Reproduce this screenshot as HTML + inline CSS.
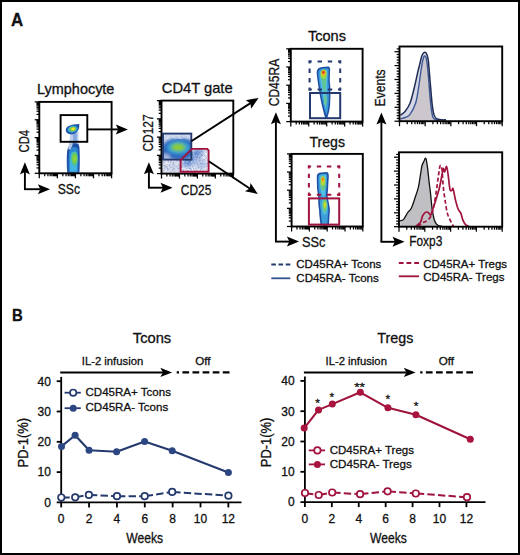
<!DOCTYPE html>
<html><head><meta charset="utf-8"><style>
html,body{margin:0;padding:0;background:#fff;}
svg{display:block;}
text{font-family:"Liberation Sans",sans-serif;stroke:#111;stroke-width:0.3px;}
</style></head><body>
<svg width="520" height="555" viewBox="0 0 520 555" font-family="Liberation Sans, sans-serif">
<defs>
<filter id="bl1" x="-50%" y="-50%" width="200%" height="200%"><feGaussianBlur stdDeviation="0.9"/></filter>
<filter id="bl15" x="-50%" y="-50%" width="200%" height="200%"><feGaussianBlur stdDeviation="1.4"/></filter>
<filter id="bl05" x="-50%" y="-50%" width="200%" height="200%"><feGaussianBlur stdDeviation="0.5"/></filter>
<filter id="bl07" x="-50%" y="-50%" width="200%" height="200%"><feGaussianBlur stdDeviation="0.7"/></filter>
<clipPath id="cpBlue"><rect x="163" y="133.6" width="28.3" height="26"/></clipPath>
</defs>
<rect x="0" y="0" width="520" height="555" fill="#000"/>
<rect x="2" y="2" width="516" height="551" fill="#fff"/>
<text x="11.00" y="25.60" font-size="17.5" text-anchor="start" fill="#111" font-weight="bold" textLength="12.2" lengthAdjust="spacingAndGlyphs" >A</text>
<text x="12.00" y="321.30" font-size="16.5" text-anchor="start" fill="#111" font-weight="bold" textLength="10.8" lengthAdjust="spacingAndGlyphs" >B</text>
<text x="37.10" y="93.90" font-size="14" text-anchor="start" fill="#111" textLength="77.3" lengthAdjust="spacingAndGlyphs" >Lymphocyte</text>
<g filter="url(#bl05)">
<path d="M69.5,133 C70.5,137 69.5,141 68.5,145 L79,145 C78.8,141 78.3,137 78.5,132 Z" fill="#a7bfe5" opacity="0.75"/>
<path d="M73,134 C73.3,138 73,141 73,145 L77,145 C76.8,141 76.6,137 77,133 Z" fill="#5d90d4" opacity="0.6"/>
<path d="M67.3,172.8 C66.6,165 66.5,156 67.2,151 C67.8,147 70,143.5 74,143.3 C77,143.2 79,143.8 79.4,147 C79.9,154 79.9,165 79.4,172.8 Z" fill="#1f52a6"/>
<path d="M68.2,149 C68.6,146 70.5,144 73,143.6 L70.5,150 Z" fill="#c9d6ee" opacity="0.9"/>
<path d="M69,172.5 C68.5,165 68.5,157 69.2,152.5 C69.8,149 71.5,147 74,147 C76.3,147 77.6,148 77.9,151 C78.3,157 78.3,165 77.9,172.5 Z" fill="#2f86cf"/>
<path d="M70.2,171.5 C70,165 70,158 70.8,154 C71.4,151 76.2,150.5 76.8,153.5 C77.2,158 77.2,165 76.8,171.5 Z" fill="#43b6e2"/>
<ellipse cx="74.5" cy="158.8" rx="3.4" ry="7" fill="#56c38e"/>
<ellipse cx="74.6" cy="158.6" rx="2.4" ry="4.8" fill="#78cc45"/>
<ellipse cx="74.7" cy="158.5" rx="1.2" ry="2.4" fill="#9ed43a"/>
<path d="M65.8,130.2 C65.6,126.3 71,124.2 79.2,124 C79.7,128.5 77.8,133 73,134.2 C68.8,134.8 66,133.2 65.8,130.2 Z" fill="#1f52a6"/>
<ellipse cx="72.6" cy="129.2" rx="5.1" ry="3.4" fill="#36a8dc" transform="rotate(-12 72.6 129.2)"/>
<ellipse cx="72.8" cy="129.1" rx="3.5" ry="2.3" fill="#7cc444" transform="rotate(-12 72.8 129.1)"/>
<ellipse cx="73" cy="129" rx="1.9" ry="1.4" fill="#f1e324"/>
</g>
<line x1="34.70" y1="173.30" x2="39.30" y2="173.30" stroke="#000" stroke-width="1.25" />
<line x1="36.50" y1="167.93" x2="39.30" y2="167.93" stroke="#000" stroke-width="1.25" />
<line x1="36.50" y1="164.78" x2="39.30" y2="164.78" stroke="#000" stroke-width="1.25" />
<line x1="36.50" y1="162.55" x2="39.30" y2="162.55" stroke="#000" stroke-width="1.25" />
<line x1="36.50" y1="160.82" x2="39.30" y2="160.82" stroke="#000" stroke-width="1.25" />
<line x1="36.50" y1="159.41" x2="39.30" y2="159.41" stroke="#000" stroke-width="1.25" />
<line x1="36.50" y1="158.21" x2="39.30" y2="158.21" stroke="#000" stroke-width="1.25" />
<line x1="36.50" y1="157.18" x2="39.30" y2="157.18" stroke="#000" stroke-width="1.25" />
<line x1="36.50" y1="156.27" x2="39.30" y2="156.27" stroke="#000" stroke-width="1.25" />
<line x1="34.70" y1="155.45" x2="39.30" y2="155.45" stroke="#000" stroke-width="1.25" />
<line x1="36.50" y1="150.08" x2="39.30" y2="150.08" stroke="#000" stroke-width="1.25" />
<line x1="36.50" y1="146.93" x2="39.30" y2="146.93" stroke="#000" stroke-width="1.25" />
<line x1="36.50" y1="144.70" x2="39.30" y2="144.70" stroke="#000" stroke-width="1.25" />
<line x1="36.50" y1="142.97" x2="39.30" y2="142.97" stroke="#000" stroke-width="1.25" />
<line x1="36.50" y1="141.56" x2="39.30" y2="141.56" stroke="#000" stroke-width="1.25" />
<line x1="36.50" y1="140.36" x2="39.30" y2="140.36" stroke="#000" stroke-width="1.25" />
<line x1="36.50" y1="139.33" x2="39.30" y2="139.33" stroke="#000" stroke-width="1.25" />
<line x1="36.50" y1="138.42" x2="39.30" y2="138.42" stroke="#000" stroke-width="1.25" />
<line x1="34.70" y1="137.60" x2="39.30" y2="137.60" stroke="#000" stroke-width="1.25" />
<line x1="36.50" y1="132.23" x2="39.30" y2="132.23" stroke="#000" stroke-width="1.25" />
<line x1="36.50" y1="129.08" x2="39.30" y2="129.08" stroke="#000" stroke-width="1.25" />
<line x1="36.50" y1="126.85" x2="39.30" y2="126.85" stroke="#000" stroke-width="1.25" />
<line x1="36.50" y1="125.12" x2="39.30" y2="125.12" stroke="#000" stroke-width="1.25" />
<line x1="36.50" y1="123.71" x2="39.30" y2="123.71" stroke="#000" stroke-width="1.25" />
<line x1="36.50" y1="122.51" x2="39.30" y2="122.51" stroke="#000" stroke-width="1.25" />
<line x1="36.50" y1="121.48" x2="39.30" y2="121.48" stroke="#000" stroke-width="1.25" />
<line x1="36.50" y1="120.57" x2="39.30" y2="120.57" stroke="#000" stroke-width="1.25" />
<line x1="34.70" y1="119.75" x2="39.30" y2="119.75" stroke="#000" stroke-width="1.25" />
<line x1="36.50" y1="114.38" x2="39.30" y2="114.38" stroke="#000" stroke-width="1.25" />
<line x1="36.50" y1="111.23" x2="39.30" y2="111.23" stroke="#000" stroke-width="1.25" />
<line x1="36.50" y1="109.00" x2="39.30" y2="109.00" stroke="#000" stroke-width="1.25" />
<line x1="36.50" y1="107.27" x2="39.30" y2="107.27" stroke="#000" stroke-width="1.25" />
<line x1="36.50" y1="105.86" x2="39.30" y2="105.86" stroke="#000" stroke-width="1.25" />
<line x1="36.50" y1="104.66" x2="39.30" y2="104.66" stroke="#000" stroke-width="1.25" />
<line x1="36.50" y1="103.63" x2="39.30" y2="103.63" stroke="#000" stroke-width="1.25" />
<line x1="36.50" y1="102.72" x2="39.30" y2="102.72" stroke="#000" stroke-width="1.25" />
<line x1="34.70" y1="101.90" x2="39.30" y2="101.90" stroke="#000" stroke-width="1.25" />
<line x1="39.30" y1="173.30" x2="39.30" y2="178.30" stroke="#000" stroke-width="1.25" />
<line x1="44.74" y1="173.30" x2="44.74" y2="176.30" stroke="#000" stroke-width="1.25" />
<line x1="47.92" y1="173.30" x2="47.92" y2="176.30" stroke="#000" stroke-width="1.25" />
<line x1="50.18" y1="173.30" x2="50.18" y2="176.30" stroke="#000" stroke-width="1.25" />
<line x1="51.93" y1="173.30" x2="51.93" y2="176.30" stroke="#000" stroke-width="1.25" />
<line x1="53.37" y1="173.30" x2="53.37" y2="176.30" stroke="#000" stroke-width="1.25" />
<line x1="54.58" y1="173.30" x2="54.58" y2="176.30" stroke="#000" stroke-width="1.25" />
<line x1="55.62" y1="173.30" x2="55.62" y2="176.30" stroke="#000" stroke-width="1.25" />
<line x1="56.55" y1="173.30" x2="56.55" y2="176.30" stroke="#000" stroke-width="1.25" />
<line x1="57.38" y1="173.30" x2="57.38" y2="178.30" stroke="#000" stroke-width="1.25" />
<line x1="62.82" y1="173.30" x2="62.82" y2="176.30" stroke="#000" stroke-width="1.25" />
<line x1="66.00" y1="173.30" x2="66.00" y2="176.30" stroke="#000" stroke-width="1.25" />
<line x1="68.26" y1="173.30" x2="68.26" y2="176.30" stroke="#000" stroke-width="1.25" />
<line x1="70.01" y1="173.30" x2="70.01" y2="176.30" stroke="#000" stroke-width="1.25" />
<line x1="71.44" y1="173.30" x2="71.44" y2="176.30" stroke="#000" stroke-width="1.25" />
<line x1="72.65" y1="173.30" x2="72.65" y2="176.30" stroke="#000" stroke-width="1.25" />
<line x1="73.70" y1="173.30" x2="73.70" y2="176.30" stroke="#000" stroke-width="1.25" />
<line x1="74.62" y1="173.30" x2="74.62" y2="176.30" stroke="#000" stroke-width="1.25" />
<line x1="75.45" y1="173.30" x2="75.45" y2="178.30" stroke="#000" stroke-width="1.25" />
<line x1="80.89" y1="173.30" x2="80.89" y2="176.30" stroke="#000" stroke-width="1.25" />
<line x1="84.07" y1="173.30" x2="84.07" y2="176.30" stroke="#000" stroke-width="1.25" />
<line x1="86.33" y1="173.30" x2="86.33" y2="176.30" stroke="#000" stroke-width="1.25" />
<line x1="88.08" y1="173.30" x2="88.08" y2="176.30" stroke="#000" stroke-width="1.25" />
<line x1="89.52" y1="173.30" x2="89.52" y2="176.30" stroke="#000" stroke-width="1.25" />
<line x1="90.73" y1="173.30" x2="90.73" y2="176.30" stroke="#000" stroke-width="1.25" />
<line x1="91.77" y1="173.30" x2="91.77" y2="176.30" stroke="#000" stroke-width="1.25" />
<line x1="92.70" y1="173.30" x2="92.70" y2="176.30" stroke="#000" stroke-width="1.25" />
<line x1="93.52" y1="173.30" x2="93.52" y2="178.30" stroke="#000" stroke-width="1.25" />
<line x1="98.97" y1="173.30" x2="98.97" y2="176.30" stroke="#000" stroke-width="1.25" />
<line x1="102.15" y1="173.30" x2="102.15" y2="176.30" stroke="#000" stroke-width="1.25" />
<line x1="104.41" y1="173.30" x2="104.41" y2="176.30" stroke="#000" stroke-width="1.25" />
<line x1="106.16" y1="173.30" x2="106.16" y2="176.30" stroke="#000" stroke-width="1.25" />
<line x1="107.59" y1="173.30" x2="107.59" y2="176.30" stroke="#000" stroke-width="1.25" />
<line x1="108.80" y1="173.30" x2="108.80" y2="176.30" stroke="#000" stroke-width="1.25" />
<line x1="109.85" y1="173.30" x2="109.85" y2="176.30" stroke="#000" stroke-width="1.25" />
<line x1="110.77" y1="173.30" x2="110.77" y2="176.30" stroke="#000" stroke-width="1.25" />
<line x1="111.60" y1="173.30" x2="111.60" y2="178.30" stroke="#000" stroke-width="1.25" />
<rect x="39.30" y="101.90" width="72.30" height="71.40" fill="none" stroke="#000" stroke-width="1.9"/>
<rect x="60.6" y="115.1" width="26.7" height="26.7" fill="none" stroke="#000" stroke-width="1.9"/>
<line x1="87.40" y1="129.40" x2="118.70" y2="129.40" stroke="#000" stroke-width="1.9" />
<path d="M127.90,129.40 L115.80,134.40 L118.20,129.40 L115.80,124.40 Z" fill="#000"/>
<line x1="24.90" y1="189.20" x2="24.90" y2="170.00" stroke="#000" stroke-width="1.9" />
<path d="M24.90,162.30 L29.90,174.40 L24.90,172.00 L19.90,174.40 Z" fill="#000"/>
<line x1="24.00" y1="189.20" x2="40.00" y2="189.20" stroke="#000" stroke-width="1.9" />
<path d="M50.00,189.20 L37.90,194.20 L40.30,189.20 L37.90,184.20 Z" fill="#000"/>
<text x="29.40" y="152.40" font-size="15.3" text-anchor="start" fill="#111" textLength="22.5" lengthAdjust="spacingAndGlyphs" transform="rotate(-90 29.40 152.40)" >CD4</text>
<text x="57.70" y="194.10" font-size="15.3" text-anchor="start" fill="#111" textLength="22.3" lengthAdjust="spacingAndGlyphs" >SSc</text>
<text x="161.80" y="93.20" font-size="14.3" text-anchor="start" fill="#111" textLength="70.8" lengthAdjust="spacingAndGlyphs" >CD4T gate</text>
<clipPath id="cpRed"><path d="M180.3,172 L180.3,160 L191.6,148.8 L208.5,148.8 L208.5,172 Z"/></clipPath>
<clipPath id="cpBelow"><rect x="163" y="159.6" width="17.3" height="13"/></clipPath>
<g clip-path="url(#cpBelow)"><rect x="163" y="159.6" width="17.3" height="13" fill="#e4e9f4"/></g>
<circle cx="168.6" cy="161.5" r="0.55" fill="#a9bbdc"/>
<circle cx="164.3" cy="166.5" r="0.55" fill="#90a6d0"/>
<circle cx="173.1" cy="171.3" r="0.55" fill="#c6d2ea"/>
<circle cx="163.6" cy="165.1" r="0.55" fill="#a9bbdc"/>
<circle cx="167.2" cy="166.7" r="0.55" fill="#a9bbdc"/>
<circle cx="177.3" cy="161.1" r="0.55" fill="#c6d2ea"/>
<circle cx="173.9" cy="167.1" r="0.55" fill="#a9bbdc"/>
<circle cx="173.0" cy="164.7" r="0.55" fill="#c6d2ea"/>
<circle cx="163.8" cy="170.7" r="0.55" fill="#90a6d0"/>
<circle cx="170.3" cy="166.5" r="0.55" fill="#c4b8cc"/>
<circle cx="168.3" cy="170.1" r="0.55" fill="#c6d2ea"/>
<circle cx="164.8" cy="166.9" r="0.55" fill="#c6d2ea"/>
<circle cx="169.4" cy="166.6" r="0.55" fill="#a9bbdc"/>
<circle cx="172.8" cy="167.5" r="0.55" fill="#d8def0"/>
<circle cx="174.8" cy="165.1" r="0.55" fill="#90a6d0"/>
<circle cx="171.1" cy="171.5" r="0.55" fill="#90a6d0"/>
<circle cx="168.2" cy="169.8" r="0.55" fill="#c6d2ea"/>
<circle cx="164.4" cy="163.4" r="0.55" fill="#d8def0"/>
<circle cx="178.1" cy="169.0" r="0.55" fill="#90a6d0"/>
<circle cx="173.5" cy="160.5" r="0.55" fill="#c4b8cc"/>
<circle cx="170.2" cy="169.3" r="0.55" fill="#c6d2ea"/>
<circle cx="179.1" cy="165.0" r="0.55" fill="#a9bbdc"/>
<circle cx="176.2" cy="166.9" r="0.55" fill="#90a6d0"/>
<circle cx="168.9" cy="164.1" r="0.55" fill="#d8def0"/>
<circle cx="173.0" cy="165.4" r="0.55" fill="#a9bbdc"/>
<circle cx="179.3" cy="165.7" r="0.55" fill="#a9bbdc"/>
<circle cx="164.0" cy="168.6" r="0.55" fill="#c4b8cc"/>
<circle cx="180.2" cy="170.2" r="0.55" fill="#90a6d0"/>
<circle cx="175.4" cy="171.0" r="0.55" fill="#90a6d0"/>
<circle cx="163.4" cy="165.5" r="0.55" fill="#c6d2ea"/>
<circle cx="173.6" cy="165.9" r="0.55" fill="#c6d2ea"/>
<circle cx="176.3" cy="161.2" r="0.55" fill="#c6d2ea"/>
<circle cx="169.9" cy="171.4" r="0.55" fill="#d8def0"/>
<circle cx="164.4" cy="165.3" r="0.55" fill="#c4b8cc"/>
<circle cx="167.8" cy="161.3" r="0.55" fill="#d8def0"/>
<circle cx="177.9" cy="163.1" r="0.55" fill="#d8def0"/>
<circle cx="180.1" cy="168.4" r="0.55" fill="#d8def0"/>
<circle cx="179.6" cy="161.5" r="0.55" fill="#c6d2ea"/>
<circle cx="165.6" cy="168.1" r="0.55" fill="#a9bbdc"/>
<circle cx="171.4" cy="167.2" r="0.55" fill="#90a6d0"/>
<circle cx="167.9" cy="161.4" r="0.55" fill="#c4b8cc"/>
<circle cx="169.4" cy="166.9" r="0.55" fill="#c6d2ea"/>
<circle cx="174.9" cy="166.2" r="0.55" fill="#c4b8cc"/>
<circle cx="174.3" cy="169.1" r="0.55" fill="#d8def0"/>
<circle cx="178.6" cy="169.6" r="0.55" fill="#c4b8cc"/>
<circle cx="169.8" cy="164.7" r="0.55" fill="#a9bbdc"/>
<circle cx="171.3" cy="164.7" r="0.55" fill="#c6d2ea"/>
<circle cx="164.2" cy="162.2" r="0.55" fill="#c6d2ea"/>
<circle cx="164.9" cy="167.3" r="0.55" fill="#a9bbdc"/>
<circle cx="163.0" cy="161.5" r="0.55" fill="#a9bbdc"/>
<circle cx="179.4" cy="167.5" r="0.55" fill="#a9bbdc"/>
<circle cx="178.1" cy="167.5" r="0.55" fill="#c6d2ea"/>
<circle cx="174.0" cy="171.9" r="0.55" fill="#c4b8cc"/>
<circle cx="169.3" cy="161.1" r="0.55" fill="#d8def0"/>
<circle cx="180.2" cy="165.6" r="0.55" fill="#d8def0"/>
<circle cx="168.4" cy="161.4" r="0.55" fill="#90a6d0"/>
<circle cx="175.8" cy="165.7" r="0.55" fill="#c6d2ea"/>
<circle cx="171.9" cy="162.2" r="0.55" fill="#c4b8cc"/>
<circle cx="169.3" cy="168.5" r="0.55" fill="#a9bbdc"/>
<circle cx="176.1" cy="163.4" r="0.55" fill="#a9bbdc"/>
<circle cx="175.0" cy="162.9" r="0.55" fill="#90a6d0"/>
<circle cx="178.7" cy="164.1" r="0.55" fill="#c6d2ea"/>
<circle cx="172.2" cy="169.6" r="0.55" fill="#90a6d0"/>
<circle cx="174.0" cy="167.5" r="0.55" fill="#c6d2ea"/>
<circle cx="176.9" cy="170.1" r="0.55" fill="#c6d2ea"/>
<circle cx="166.5" cy="165.9" r="0.55" fill="#a9bbdc"/>
<circle cx="180.1" cy="169.8" r="0.55" fill="#d8def0"/>
<circle cx="167.5" cy="168.5" r="0.55" fill="#90a6d0"/>
<circle cx="170.7" cy="171.7" r="0.55" fill="#90a6d0"/>
<circle cx="179.5" cy="164.2" r="0.55" fill="#c6d2ea"/>
<circle cx="164.8" cy="165.6" r="0.55" fill="#90a6d0"/>
<circle cx="166.5" cy="167.6" r="0.55" fill="#c4b8cc"/>
<circle cx="177.5" cy="165.7" r="0.55" fill="#90a6d0"/>
<circle cx="176.8" cy="160.6" r="0.55" fill="#a9bbdc"/>
<circle cx="178.7" cy="169.7" r="0.55" fill="#c6d2ea"/>
<circle cx="171.3" cy="161.8" r="0.55" fill="#90a6d0"/>
<circle cx="164.5" cy="171.8" r="0.55" fill="#d8def0"/>
<circle cx="171.0" cy="169.2" r="0.55" fill="#a9bbdc"/>
<circle cx="175.5" cy="161.7" r="0.55" fill="#c6d2ea"/>
<circle cx="163.5" cy="167.2" r="0.55" fill="#d8def0"/>
<circle cx="177.0" cy="161.4" r="0.55" fill="#c4b8cc"/>
<circle cx="180.0" cy="168.0" r="0.55" fill="#90a6d0"/>
<circle cx="165.7" cy="166.6" r="0.55" fill="#a9bbdc"/>
<circle cx="163.2" cy="172.1" r="0.55" fill="#a9bbdc"/>
<circle cx="172.1" cy="171.6" r="0.55" fill="#d8def0"/>
<circle cx="180.1" cy="162.0" r="0.55" fill="#c6d2ea"/>
<circle cx="163.5" cy="162.3" r="0.55" fill="#c4b8cc"/>
<circle cx="167.2" cy="167.1" r="0.55" fill="#90a6d0"/>
<circle cx="172.4" cy="170.3" r="0.55" fill="#a9bbdc"/>
<circle cx="178.7" cy="164.1" r="0.55" fill="#d8def0"/>
<circle cx="174.5" cy="170.1" r="0.55" fill="#c4b8cc"/>
<circle cx="170.3" cy="171.4" r="0.55" fill="#c4b8cc"/>
<circle cx="165.3" cy="161.5" r="0.55" fill="#c4b8cc"/>
<circle cx="163.3" cy="165.2" r="0.55" fill="#c6d2ea"/>
<circle cx="173.5" cy="169.6" r="0.55" fill="#c6d2ea"/>
<circle cx="166.0" cy="165.7" r="0.55" fill="#a9bbdc"/>
<circle cx="172.6" cy="163.7" r="0.55" fill="#c4b8cc"/>
<circle cx="172.2" cy="165.8" r="0.55" fill="#a9bbdc"/>
<circle cx="178.3" cy="160.2" r="0.55" fill="#c6d2ea"/>
<circle cx="167.8" cy="169.5" r="0.55" fill="#c4b8cc"/>
<circle cx="170.8" cy="159.9" r="0.55" fill="#a9bbdc"/>
<circle cx="170.7" cy="167.5" r="0.55" fill="#c4b8cc"/>
<circle cx="173.5" cy="162.1" r="0.55" fill="#90a6d0"/>
<circle cx="170.8" cy="166.4" r="0.55" fill="#d8def0"/>
<circle cx="171.8" cy="162.7" r="0.55" fill="#c4b8cc"/>
<circle cx="178.2" cy="171.7" r="0.55" fill="#90a6d0"/>
<circle cx="179.0" cy="171.1" r="0.55" fill="#c6d2ea"/>
<circle cx="177.5" cy="161.3" r="0.55" fill="#a9bbdc"/>
<circle cx="169.8" cy="163.6" r="0.55" fill="#c6d2ea"/>
<circle cx="170.4" cy="162.3" r="0.55" fill="#90a6d0"/>
<circle cx="176.6" cy="171.2" r="0.55" fill="#c6d2ea"/>
<circle cx="179.3" cy="167.9" r="0.55" fill="#90a6d0"/>
<circle cx="165.5" cy="171.0" r="0.55" fill="#d8def0"/>
<circle cx="166.8" cy="171.9" r="0.55" fill="#d8def0"/>
<circle cx="178.3" cy="161.6" r="0.55" fill="#c6d2ea"/>
<circle cx="165.8" cy="165.1" r="0.55" fill="#c4b8cc"/>
<circle cx="170.0" cy="165.0" r="0.55" fill="#90a6d0"/>
<circle cx="168.5" cy="168.9" r="0.55" fill="#a9bbdc"/>
<circle cx="168.8" cy="165.5" r="0.55" fill="#a9bbdc"/>
<circle cx="169.6" cy="166.2" r="0.55" fill="#90a6d0"/>
<circle cx="171.9" cy="160.3" r="0.55" fill="#c6d2ea"/>
<circle cx="179.8" cy="160.9" r="0.55" fill="#90a6d0"/>
<circle cx="167.7" cy="171.3" r="0.55" fill="#c6d2ea"/>
<circle cx="167.7" cy="161.2" r="0.55" fill="#d8def0"/>
<circle cx="177.7" cy="168.3" r="0.55" fill="#90a6d0"/>
<circle cx="170.0" cy="166.5" r="0.55" fill="#c4b8cc"/>
<circle cx="172.9" cy="168.6" r="0.55" fill="#a9bbdc"/>
<circle cx="167.8" cy="169.9" r="0.55" fill="#c6d2ea"/>
<circle cx="170.4" cy="160.4" r="0.55" fill="#a9bbdc"/>
<circle cx="174.0" cy="169.9" r="0.55" fill="#a9bbdc"/>
<circle cx="173.5" cy="162.4" r="0.55" fill="#90a6d0"/>
<circle cx="177.9" cy="165.4" r="0.55" fill="#90a6d0"/>
<circle cx="180.2" cy="164.9" r="0.55" fill="#90a6d0"/>
<circle cx="173.8" cy="160.1" r="0.55" fill="#c6d2ea"/>
<circle cx="179.2" cy="172.1" r="0.55" fill="#90a6d0"/>
<circle cx="163.9" cy="162.1" r="0.55" fill="#90a6d0"/>
<circle cx="173.9" cy="166.4" r="0.55" fill="#c6d2ea"/>
<circle cx="168.0" cy="166.0" r="0.55" fill="#c6d2ea"/>
<circle cx="167.7" cy="169.9" r="0.55" fill="#90a6d0"/>
<circle cx="163.6" cy="159.7" r="0.55" fill="#c4b8cc"/>
<circle cx="172.5" cy="162.0" r="0.55" fill="#d8def0"/>
<circle cx="167.3" cy="165.3" r="0.55" fill="#d8def0"/>
<circle cx="174.4" cy="166.6" r="0.55" fill="#d8def0"/>
<circle cx="179.8" cy="163.5" r="0.55" fill="#c6d2ea"/>
<circle cx="180.0" cy="164.0" r="0.55" fill="#c6d2ea"/>
<circle cx="170.0" cy="164.0" r="0.55" fill="#a9bbdc"/>
<circle cx="177.5" cy="159.7" r="0.55" fill="#90a6d0"/>
<circle cx="170.5" cy="160.2" r="0.55" fill="#d8def0"/>
<circle cx="178.1" cy="168.2" r="0.55" fill="#90a6d0"/>
<circle cx="173.4" cy="168.5" r="0.55" fill="#a9bbdc"/>
<circle cx="170.9" cy="161.5" r="0.55" fill="#d8def0"/>
<circle cx="163.1" cy="164.2" r="0.55" fill="#90a6d0"/>
<circle cx="179.8" cy="166.6" r="0.55" fill="#c6d2ea"/>
<circle cx="163.6" cy="171.0" r="0.55" fill="#c6d2ea"/>
<circle cx="169.2" cy="159.5" r="0.55" fill="#d8def0"/>
<circle cx="164.5" cy="163.1" r="0.55" fill="#c6d2ea"/>
<circle cx="167.3" cy="169.6" r="0.55" fill="#a9bbdc"/>
<circle cx="167.6" cy="160.7" r="0.55" fill="#d8def0"/>
<circle cx="173.2" cy="164.6" r="0.55" fill="#90a6d0"/>
<circle cx="168.3" cy="162.5" r="0.55" fill="#c4b8cc"/>
<circle cx="179.6" cy="170.6" r="0.55" fill="#c6d2ea"/>
<circle cx="174.4" cy="168.8" r="0.55" fill="#c4b8cc"/>
<circle cx="169.7" cy="163.7" r="0.55" fill="#d8def0"/>
<circle cx="165.6" cy="168.9" r="0.55" fill="#c6d2ea"/>
<circle cx="163.8" cy="170.4" r="0.55" fill="#c4b8cc"/>
<circle cx="173.9" cy="169.0" r="0.55" fill="#c4b8cc"/>
<circle cx="165.4" cy="166.3" r="0.55" fill="#c4b8cc"/>
<circle cx="172.8" cy="170.1" r="0.55" fill="#a9bbdc"/>
<circle cx="177.3" cy="167.1" r="0.55" fill="#c6d2ea"/>
<circle cx="164.5" cy="160.0" r="0.55" fill="#90a6d0"/>
<circle cx="179.6" cy="164.4" r="0.55" fill="#d8def0"/>
<circle cx="172.7" cy="167.7" r="0.55" fill="#c4b8cc"/>
<circle cx="174.8" cy="165.9" r="0.55" fill="#a9bbdc"/>
<circle cx="170.9" cy="160.4" r="0.55" fill="#c4b8cc"/>
<circle cx="178.5" cy="160.7" r="0.55" fill="#c4b8cc"/>
<circle cx="164.1" cy="169.1" r="0.55" fill="#90a6d0"/>
<circle cx="177.0" cy="170.5" r="0.55" fill="#c6d2ea"/>
<circle cx="175.6" cy="162.2" r="0.55" fill="#d8def0"/>
<circle cx="171.5" cy="164.5" r="0.55" fill="#d8def0"/>
<circle cx="178.8" cy="163.2" r="0.55" fill="#a9bbdc"/>
<circle cx="173.7" cy="167.9" r="0.55" fill="#a9bbdc"/>
<circle cx="173.4" cy="163.8" r="0.55" fill="#90a6d0"/>
<circle cx="173.7" cy="161.2" r="0.55" fill="#d8def0"/>
<circle cx="164.0" cy="163.0" r="0.55" fill="#a9bbdc"/>
<circle cx="175.0" cy="168.3" r="0.55" fill="#90a6d0"/>
<circle cx="175.3" cy="163.2" r="0.55" fill="#d8def0"/>
<circle cx="171.1" cy="161.0" r="0.55" fill="#c4b8cc"/>
<circle cx="166.4" cy="172.2" r="0.55" fill="#d8def0"/>
<circle cx="163.3" cy="165.5" r="0.55" fill="#c4b8cc"/>
<circle cx="179.7" cy="165.3" r="0.55" fill="#90a6d0"/>
<circle cx="169.7" cy="171.4" r="0.55" fill="#c6d2ea"/>
<circle cx="164.3" cy="160.7" r="0.55" fill="#c4b8cc"/>
<circle cx="167.5" cy="164.2" r="0.55" fill="#c4b8cc"/>
<circle cx="177.2" cy="166.1" r="0.55" fill="#a9bbdc"/>
<circle cx="175.2" cy="162.5" r="0.55" fill="#d8def0"/>
<circle cx="169.8" cy="161.6" r="0.55" fill="#d8def0"/>
<circle cx="174.8" cy="164.8" r="0.55" fill="#c6d2ea"/>
<circle cx="170.2" cy="164.4" r="0.55" fill="#a9bbdc"/>
<circle cx="177.5" cy="159.5" r="0.55" fill="#90a6d0"/>
<circle cx="177.5" cy="161.1" r="0.55" fill="#c6d2ea"/>
<g clip-path="url(#cpRed)">
<rect x="180" y="148" width="29" height="25" fill="#eef1f8"/>
<g filter="url(#bl15)">
<ellipse cx="193" cy="158" rx="13" ry="6" fill="#7c9fd8" transform="rotate(-40 193 158)"/>
<ellipse cx="191" cy="157.5" rx="8" ry="3.2" fill="#4a7ecb" transform="rotate(-45 191 157.5)"/>
<ellipse cx="200" cy="164" rx="7" ry="5" fill="#b7c7e6"/>
</g>
<circle cx="200.4" cy="169.7" r="0.5" fill="#6f90cc"/>
<circle cx="191.3" cy="169.0" r="0.5" fill="#8fa8d6"/>
<circle cx="190.5" cy="158.7" r="0.5" fill="#6f90cc"/>
<circle cx="204.4" cy="155.3" r="0.5" fill="#8fa8d6"/>
<circle cx="203.8" cy="155.4" r="0.5" fill="#b3c3e4"/>
<circle cx="187.3" cy="155.0" r="0.5" fill="#c9bfd4"/>
<circle cx="189.2" cy="166.7" r="0.5" fill="#d3dbef"/>
<circle cx="205.2" cy="167.6" r="0.5" fill="#d3dbef"/>
<circle cx="206.1" cy="170.6" r="0.5" fill="#c9bfd4"/>
<circle cx="206.6" cy="158.3" r="0.5" fill="#c9bfd4"/>
<circle cx="201.5" cy="163.8" r="0.5" fill="#6f90cc"/>
<circle cx="194.0" cy="170.0" r="0.5" fill="#c9bfd4"/>
<circle cx="183.9" cy="159.8" r="0.5" fill="#6f90cc"/>
<circle cx="188.2" cy="154.7" r="0.5" fill="#6f90cc"/>
<circle cx="191.8" cy="154.3" r="0.5" fill="#d3dbef"/>
<circle cx="196.0" cy="157.9" r="0.5" fill="#b3c3e4"/>
<circle cx="198.4" cy="150.5" r="0.5" fill="#c9bfd4"/>
<circle cx="205.8" cy="160.3" r="0.5" fill="#b3c3e4"/>
<circle cx="193.1" cy="156.5" r="0.5" fill="#d3dbef"/>
<circle cx="192.4" cy="161.5" r="0.5" fill="#b3c3e4"/>
<circle cx="187.6" cy="162.0" r="0.5" fill="#8fa8d6"/>
<circle cx="201.4" cy="158.4" r="0.5" fill="#d3dbef"/>
<circle cx="201.3" cy="153.7" r="0.5" fill="#6f90cc"/>
<circle cx="188.1" cy="171.3" r="0.5" fill="#b3c3e4"/>
<circle cx="199.7" cy="161.1" r="0.5" fill="#b3c3e4"/>
<circle cx="182.9" cy="169.6" r="0.5" fill="#d3dbef"/>
<circle cx="191.6" cy="159.1" r="0.5" fill="#6f90cc"/>
<circle cx="204.2" cy="169.1" r="0.5" fill="#8fa8d6"/>
<circle cx="183.9" cy="158.7" r="0.5" fill="#d3dbef"/>
<circle cx="207.6" cy="160.2" r="0.5" fill="#8fa8d6"/>
<circle cx="191.3" cy="170.3" r="0.5" fill="#c9bfd4"/>
<circle cx="204.4" cy="171.4" r="0.5" fill="#b3c3e4"/>
<circle cx="202.4" cy="154.0" r="0.5" fill="#b3c3e4"/>
<circle cx="195.0" cy="164.6" r="0.5" fill="#d3dbef"/>
<circle cx="182.7" cy="166.8" r="0.5" fill="#8fa8d6"/>
<circle cx="202.4" cy="154.2" r="0.5" fill="#8fa8d6"/>
<circle cx="198.5" cy="155.8" r="0.5" fill="#b3c3e4"/>
<circle cx="198.0" cy="161.1" r="0.5" fill="#d3dbef"/>
<circle cx="200.0" cy="151.4" r="0.5" fill="#8fa8d6"/>
<circle cx="188.8" cy="170.7" r="0.5" fill="#b3c3e4"/>
<circle cx="191.2" cy="154.0" r="0.5" fill="#c9bfd4"/>
<circle cx="180.3" cy="161.3" r="0.5" fill="#d3dbef"/>
<circle cx="188.2" cy="156.1" r="0.5" fill="#b3c3e4"/>
<circle cx="193.7" cy="154.2" r="0.5" fill="#b3c3e4"/>
<circle cx="198.6" cy="150.1" r="0.5" fill="#b3c3e4"/>
<circle cx="194.4" cy="164.4" r="0.5" fill="#d3dbef"/>
<circle cx="192.3" cy="157.4" r="0.5" fill="#d3dbef"/>
<circle cx="192.2" cy="164.6" r="0.5" fill="#b3c3e4"/>
<circle cx="204.1" cy="150.4" r="0.5" fill="#d3dbef"/>
<circle cx="207.7" cy="156.0" r="0.5" fill="#b3c3e4"/>
<circle cx="186.8" cy="153.9" r="0.5" fill="#6f90cc"/>
<circle cx="183.4" cy="163.3" r="0.5" fill="#c9bfd4"/>
<circle cx="192.1" cy="164.2" r="0.5" fill="#c9bfd4"/>
<circle cx="184.4" cy="157.9" r="0.5" fill="#b3c3e4"/>
<circle cx="181.0" cy="162.6" r="0.5" fill="#d3dbef"/>
<circle cx="191.4" cy="169.6" r="0.5" fill="#6f90cc"/>
<circle cx="201.0" cy="171.9" r="0.5" fill="#b3c3e4"/>
<circle cx="189.6" cy="153.1" r="0.5" fill="#c9bfd4"/>
<circle cx="201.3" cy="149.5" r="0.5" fill="#d3dbef"/>
<circle cx="204.0" cy="171.7" r="0.5" fill="#d3dbef"/>
<circle cx="188.2" cy="157.0" r="0.5" fill="#8fa8d6"/>
<circle cx="196.1" cy="166.4" r="0.5" fill="#d3dbef"/>
<circle cx="190.4" cy="167.9" r="0.5" fill="#d3dbef"/>
<circle cx="182.8" cy="165.2" r="0.5" fill="#b3c3e4"/>
<circle cx="190.8" cy="170.1" r="0.5" fill="#b3c3e4"/>
<circle cx="189.4" cy="165.9" r="0.5" fill="#d3dbef"/>
<circle cx="203.2" cy="166.6" r="0.5" fill="#8fa8d6"/>
<circle cx="190.9" cy="159.6" r="0.5" fill="#8fa8d6"/>
<circle cx="187.5" cy="166.1" r="0.5" fill="#c9bfd4"/>
<circle cx="189.9" cy="155.1" r="0.5" fill="#c9bfd4"/>
<circle cx="181.5" cy="166.1" r="0.5" fill="#6f90cc"/>
<circle cx="206.4" cy="155.7" r="0.5" fill="#c9bfd4"/>
<circle cx="206.1" cy="163.5" r="0.5" fill="#8fa8d6"/>
<circle cx="193.7" cy="171.0" r="0.5" fill="#d3dbef"/>
<circle cx="202.6" cy="170.0" r="0.5" fill="#d3dbef"/>
<circle cx="184.0" cy="160.3" r="0.5" fill="#8fa8d6"/>
<circle cx="202.9" cy="165.9" r="0.5" fill="#b3c3e4"/>
<circle cx="197.4" cy="156.4" r="0.5" fill="#6f90cc"/>
<circle cx="193.3" cy="167.0" r="0.5" fill="#c9bfd4"/>
<circle cx="201.5" cy="154.5" r="0.5" fill="#8fa8d6"/>
<circle cx="198.6" cy="160.0" r="0.5" fill="#c9bfd4"/>
<circle cx="189.5" cy="171.5" r="0.5" fill="#8fa8d6"/>
<circle cx="208.2" cy="154.9" r="0.5" fill="#8fa8d6"/>
<circle cx="186.2" cy="158.6" r="0.5" fill="#d3dbef"/>
<circle cx="193.3" cy="169.5" r="0.5" fill="#b3c3e4"/>
<circle cx="201.4" cy="168.5" r="0.5" fill="#8fa8d6"/>
<circle cx="202.3" cy="155.6" r="0.5" fill="#6f90cc"/>
<circle cx="196.3" cy="157.5" r="0.5" fill="#6f90cc"/>
<circle cx="185.9" cy="154.5" r="0.5" fill="#b3c3e4"/>
<circle cx="186.9" cy="155.3" r="0.5" fill="#c9bfd4"/>
<circle cx="187.4" cy="154.5" r="0.5" fill="#c9bfd4"/>
<circle cx="186.8" cy="167.6" r="0.5" fill="#d3dbef"/>
<circle cx="208.2" cy="151.2" r="0.5" fill="#d3dbef"/>
<circle cx="205.2" cy="154.2" r="0.5" fill="#d3dbef"/>
<circle cx="206.1" cy="149.7" r="0.5" fill="#6f90cc"/>
<circle cx="197.2" cy="168.0" r="0.5" fill="#b3c3e4"/>
<circle cx="206.5" cy="157.4" r="0.5" fill="#b3c3e4"/>
<circle cx="193.0" cy="154.8" r="0.5" fill="#8fa8d6"/>
<circle cx="183.3" cy="162.6" r="0.5" fill="#c9bfd4"/>
<circle cx="208.5" cy="149.7" r="0.5" fill="#b3c3e4"/>
<circle cx="203.3" cy="167.8" r="0.5" fill="#d3dbef"/>
<circle cx="199.4" cy="153.1" r="0.5" fill="#6f90cc"/>
<circle cx="194.3" cy="160.0" r="0.5" fill="#d3dbef"/>
<circle cx="183.2" cy="158.0" r="0.5" fill="#c9bfd4"/>
<circle cx="184.7" cy="161.2" r="0.5" fill="#b3c3e4"/>
<circle cx="191.5" cy="155.1" r="0.5" fill="#6f90cc"/>
<circle cx="199.1" cy="158.5" r="0.5" fill="#8fa8d6"/>
<circle cx="189.1" cy="161.9" r="0.5" fill="#6f90cc"/>
<circle cx="192.0" cy="149.2" r="0.5" fill="#6f90cc"/>
<circle cx="198.5" cy="157.9" r="0.5" fill="#d3dbef"/>
<circle cx="205.7" cy="158.6" r="0.5" fill="#8fa8d6"/>
<circle cx="191.8" cy="169.3" r="0.5" fill="#d3dbef"/>
<circle cx="202.1" cy="151.8" r="0.5" fill="#8fa8d6"/>
<circle cx="195.9" cy="163.7" r="0.5" fill="#d3dbef"/>
<circle cx="182.8" cy="163.2" r="0.5" fill="#6f90cc"/>
<circle cx="201.1" cy="152.8" r="0.5" fill="#6f90cc"/>
<circle cx="188.3" cy="160.9" r="0.5" fill="#8fa8d6"/>
<circle cx="183.4" cy="160.2" r="0.5" fill="#b3c3e4"/>
<circle cx="188.8" cy="168.2" r="0.5" fill="#8fa8d6"/>
<circle cx="207.8" cy="160.0" r="0.5" fill="#8fa8d6"/>
<circle cx="197.4" cy="163.6" r="0.5" fill="#8fa8d6"/>
<circle cx="205.8" cy="163.2" r="0.5" fill="#b3c3e4"/>
<circle cx="198.4" cy="168.7" r="0.5" fill="#c9bfd4"/>
<circle cx="191.7" cy="168.4" r="0.5" fill="#d3dbef"/>
<circle cx="191.6" cy="160.8" r="0.5" fill="#d3dbef"/>
<circle cx="190.4" cy="152.3" r="0.5" fill="#b3c3e4"/>
<circle cx="181.5" cy="161.8" r="0.5" fill="#8fa8d6"/>
<circle cx="199.1" cy="156.3" r="0.5" fill="#d3dbef"/>
<circle cx="197.2" cy="161.6" r="0.5" fill="#6f90cc"/>
<circle cx="198.6" cy="156.0" r="0.5" fill="#b3c3e4"/>
<circle cx="192.3" cy="164.1" r="0.5" fill="#d3dbef"/>
<circle cx="194.5" cy="152.9" r="0.5" fill="#8fa8d6"/>
<circle cx="197.8" cy="160.2" r="0.5" fill="#b3c3e4"/>
<circle cx="192.9" cy="163.2" r="0.5" fill="#d3dbef"/>
<circle cx="203.9" cy="167.6" r="0.5" fill="#d3dbef"/>
<circle cx="192.4" cy="150.9" r="0.5" fill="#d3dbef"/>
<circle cx="194.5" cy="164.0" r="0.5" fill="#8fa8d6"/>
<circle cx="198.2" cy="150.7" r="0.5" fill="#6f90cc"/>
<circle cx="202.2" cy="160.7" r="0.5" fill="#8fa8d6"/>
<circle cx="201.5" cy="169.6" r="0.5" fill="#b3c3e4"/>
<circle cx="197.6" cy="164.9" r="0.5" fill="#8fa8d6"/>
<circle cx="185.8" cy="171.6" r="0.5" fill="#d3dbef"/>
<circle cx="188.4" cy="167.6" r="0.5" fill="#b3c3e4"/>
<circle cx="199.6" cy="165.5" r="0.5" fill="#b3c3e4"/>
<circle cx="201.6" cy="152.5" r="0.5" fill="#c9bfd4"/>
<circle cx="188.1" cy="167.7" r="0.5" fill="#b3c3e4"/>
<circle cx="187.5" cy="171.2" r="0.5" fill="#d3dbef"/>
<circle cx="186.2" cy="154.9" r="0.5" fill="#c9bfd4"/>
<circle cx="187.0" cy="157.4" r="0.5" fill="#b3c3e4"/>
<circle cx="206.7" cy="164.6" r="0.5" fill="#d3dbef"/>
<circle cx="185.1" cy="167.0" r="0.5" fill="#8fa8d6"/>
<circle cx="202.0" cy="149.9" r="0.5" fill="#6f90cc"/>
<circle cx="207.5" cy="159.3" r="0.5" fill="#c9bfd4"/>
<circle cx="196.7" cy="169.3" r="0.5" fill="#8fa8d6"/>
<circle cx="187.4" cy="161.2" r="0.5" fill="#d3dbef"/>
<circle cx="201.1" cy="157.4" r="0.5" fill="#d3dbef"/>
<circle cx="208.2" cy="162.2" r="0.5" fill="#6f90cc"/>
<circle cx="186.8" cy="163.1" r="0.5" fill="#8fa8d6"/>
<circle cx="188.7" cy="160.8" r="0.5" fill="#6f90cc"/>
<circle cx="198.3" cy="171.6" r="0.5" fill="#c9bfd4"/>
<circle cx="206.5" cy="169.6" r="0.5" fill="#8fa8d6"/>
<circle cx="201.4" cy="153.9" r="0.5" fill="#6f90cc"/>
<circle cx="197.7" cy="158.8" r="0.5" fill="#c9bfd4"/>
<circle cx="190.6" cy="149.9" r="0.5" fill="#d3dbef"/>
<circle cx="186.7" cy="164.0" r="0.5" fill="#8fa8d6"/>
<circle cx="181.8" cy="162.0" r="0.5" fill="#6f90cc"/>
<circle cx="186.6" cy="162.3" r="0.5" fill="#c9bfd4"/>
<circle cx="184.1" cy="157.3" r="0.5" fill="#d3dbef"/>
<circle cx="202.9" cy="165.2" r="0.5" fill="#d3dbef"/>
<circle cx="183.0" cy="163.6" r="0.5" fill="#6f90cc"/>
<circle cx="191.6" cy="154.9" r="0.5" fill="#8fa8d6"/>
<circle cx="181.9" cy="167.8" r="0.5" fill="#6f90cc"/>
<circle cx="197.1" cy="162.2" r="0.5" fill="#c9bfd4"/>
<circle cx="206.7" cy="165.8" r="0.5" fill="#b3c3e4"/>
<circle cx="206.0" cy="151.2" r="0.5" fill="#c9bfd4"/>
<circle cx="195.8" cy="170.6" r="0.5" fill="#b3c3e4"/>
<circle cx="192.0" cy="160.8" r="0.5" fill="#c9bfd4"/>
<circle cx="198.6" cy="158.4" r="0.5" fill="#c9bfd4"/>
<circle cx="185.2" cy="156.0" r="0.5" fill="#6f90cc"/>
<circle cx="198.0" cy="171.9" r="0.5" fill="#d3dbef"/>
<circle cx="200.5" cy="148.9" r="0.5" fill="#d3dbef"/>
<circle cx="201.3" cy="159.6" r="0.5" fill="#d3dbef"/>
<circle cx="185.2" cy="171.9" r="0.5" fill="#6f90cc"/>
<circle cx="189.8" cy="166.2" r="0.5" fill="#6f90cc"/>
<circle cx="200.4" cy="155.0" r="0.5" fill="#c9bfd4"/>
<circle cx="199.5" cy="164.7" r="0.5" fill="#c9bfd4"/>
<circle cx="207.7" cy="155.7" r="0.5" fill="#b3c3e4"/>
<circle cx="182.7" cy="160.6" r="0.5" fill="#b3c3e4"/>
<circle cx="187.6" cy="154.3" r="0.5" fill="#b3c3e4"/>
<circle cx="206.9" cy="166.1" r="0.5" fill="#6f90cc"/>
<circle cx="185.7" cy="157.8" r="0.5" fill="#c9bfd4"/>
<circle cx="187.0" cy="169.9" r="0.5" fill="#c9bfd4"/>
<circle cx="193.5" cy="168.3" r="0.5" fill="#8fa8d6"/>
<circle cx="204.5" cy="158.9" r="0.5" fill="#b3c3e4"/>
<circle cx="196.4" cy="155.9" r="0.5" fill="#b3c3e4"/>
<circle cx="191.3" cy="162.4" r="0.5" fill="#c9bfd4"/>
<circle cx="206.0" cy="152.2" r="0.5" fill="#8fa8d6"/>
<circle cx="183.5" cy="163.2" r="0.5" fill="#b3c3e4"/>
<circle cx="190.0" cy="152.1" r="0.5" fill="#8fa8d6"/>
<circle cx="198.4" cy="149.8" r="0.5" fill="#8fa8d6"/>
<circle cx="201.1" cy="150.3" r="0.5" fill="#c9bfd4"/>
<circle cx="201.8" cy="153.4" r="0.5" fill="#c9bfd4"/>
<circle cx="205.4" cy="150.3" r="0.5" fill="#d3dbef"/>
<circle cx="204.2" cy="167.6" r="0.5" fill="#8fa8d6"/>
<circle cx="203.6" cy="163.5" r="0.5" fill="#6f90cc"/>
<circle cx="193.8" cy="151.9" r="0.5" fill="#b3c3e4"/>
<circle cx="188.6" cy="156.6" r="0.5" fill="#6f90cc"/>
<circle cx="188.3" cy="165.4" r="0.5" fill="#6f90cc"/>
<circle cx="206.0" cy="166.6" r="0.5" fill="#c9bfd4"/>
<circle cx="194.5" cy="168.6" r="0.5" fill="#c9bfd4"/>
<circle cx="201.3" cy="167.1" r="0.5" fill="#8fa8d6"/>
<circle cx="192.6" cy="166.7" r="0.5" fill="#6f90cc"/>
<circle cx="193.5" cy="149.9" r="0.5" fill="#c9bfd4"/>
<circle cx="186.4" cy="168.8" r="0.5" fill="#8fa8d6"/>
<circle cx="196.5" cy="155.5" r="0.5" fill="#d3dbef"/>
<circle cx="201.8" cy="171.5" r="0.5" fill="#8fa8d6"/>
<circle cx="190.1" cy="151.0" r="0.5" fill="#b3c3e4"/>
<circle cx="207.6" cy="162.5" r="0.5" fill="#c9bfd4"/>
<circle cx="187.6" cy="170.7" r="0.5" fill="#6f90cc"/>
<circle cx="203.3" cy="170.6" r="0.5" fill="#b3c3e4"/>
<circle cx="194.4" cy="151.4" r="0.5" fill="#8fa8d6"/>
<circle cx="194.1" cy="171.8" r="0.5" fill="#c9bfd4"/>
<circle cx="202.5" cy="163.4" r="0.5" fill="#6f90cc"/>
<circle cx="183.0" cy="170.3" r="0.5" fill="#8fa8d6"/>
<circle cx="192.2" cy="163.8" r="0.5" fill="#6f90cc"/>
<circle cx="186.1" cy="154.9" r="0.5" fill="#c9bfd4"/>
<circle cx="194.4" cy="157.6" r="0.5" fill="#b3c3e4"/>
<circle cx="206.9" cy="151.7" r="0.5" fill="#c9bfd4"/>
<circle cx="201.6" cy="166.3" r="0.5" fill="#8fa8d6"/>
<circle cx="190.1" cy="156.4" r="0.5" fill="#b3c3e4"/>
<circle cx="204.8" cy="159.2" r="0.5" fill="#c9bfd4"/>
<circle cx="201.2" cy="152.7" r="0.5" fill="#d3dbef"/>
<circle cx="199.7" cy="154.8" r="0.5" fill="#b3c3e4"/>
<circle cx="183.9" cy="159.5" r="0.5" fill="#b3c3e4"/>
<circle cx="194.6" cy="155.0" r="0.5" fill="#c9bfd4"/>
<circle cx="187.3" cy="156.4" r="0.5" fill="#c9bfd4"/>
<circle cx="190.1" cy="154.3" r="0.5" fill="#b3c3e4"/>
<circle cx="187.6" cy="171.0" r="0.5" fill="#8fa8d6"/>
<circle cx="184.9" cy="164.1" r="0.5" fill="#b3c3e4"/>
<circle cx="191.1" cy="171.6" r="0.5" fill="#6f90cc"/>
<circle cx="201.0" cy="158.9" r="0.5" fill="#b3c3e4"/>
<circle cx="183.4" cy="169.9" r="0.5" fill="#6f90cc"/>
<circle cx="186.1" cy="157.8" r="0.5" fill="#8fa8d6"/>
<circle cx="180.7" cy="168.6" r="0.5" fill="#d3dbef"/>
<circle cx="199.9" cy="160.4" r="0.5" fill="#6f90cc"/>
<circle cx="193.4" cy="152.1" r="0.5" fill="#c9bfd4"/>
<circle cx="201.1" cy="148.9" r="0.5" fill="#b3c3e4"/>
<circle cx="205.9" cy="158.8" r="0.5" fill="#c9bfd4"/>
<circle cx="196.9" cy="163.8" r="0.5" fill="#b3c3e4"/>
<circle cx="199.1" cy="163.9" r="0.5" fill="#c9bfd4"/>
<circle cx="204.3" cy="164.6" r="0.5" fill="#8fa8d6"/>
<circle cx="193.1" cy="156.1" r="0.5" fill="#8fa8d6"/>
<circle cx="205.5" cy="154.4" r="0.5" fill="#d3dbef"/>
<circle cx="200.4" cy="163.4" r="0.5" fill="#6f90cc"/>
<circle cx="204.3" cy="160.0" r="0.5" fill="#8fa8d6"/>
<circle cx="197.8" cy="158.3" r="0.5" fill="#b3c3e4"/>
<circle cx="205.5" cy="156.4" r="0.5" fill="#8fa8d6"/>
<circle cx="191.3" cy="160.2" r="0.5" fill="#8fa8d6"/>
<circle cx="181.4" cy="161.4" r="0.5" fill="#b3c3e4"/>
<circle cx="200.5" cy="170.9" r="0.5" fill="#b3c3e4"/>
<circle cx="194.9" cy="151.1" r="0.5" fill="#c9bfd4"/>
<circle cx="193.2" cy="153.6" r="0.5" fill="#d3dbef"/>
<circle cx="194.7" cy="163.6" r="0.5" fill="#6f90cc"/>
<circle cx="195.0" cy="158.3" r="0.5" fill="#d3dbef"/>
<circle cx="186.2" cy="164.7" r="0.5" fill="#d3dbef"/>
<circle cx="194.8" cy="170.4" r="0.5" fill="#c9bfd4"/>
<circle cx="190.3" cy="150.1" r="0.5" fill="#6f90cc"/>
<circle cx="191.1" cy="150.2" r="0.5" fill="#8fa8d6"/>
<circle cx="192.1" cy="158.6" r="0.5" fill="#6f90cc"/>
<circle cx="196.7" cy="151.3" r="0.5" fill="#6f90cc"/>
<circle cx="201.2" cy="170.6" r="0.5" fill="#c9bfd4"/>
<circle cx="207.7" cy="171.9" r="0.5" fill="#d3dbef"/>
<circle cx="193.3" cy="152.6" r="0.5" fill="#8fa8d6"/>
<circle cx="203.1" cy="163.5" r="0.5" fill="#d3dbef"/>
<circle cx="198.4" cy="165.5" r="0.5" fill="#b3c3e4"/>
<circle cx="190.3" cy="163.6" r="0.5" fill="#d3dbef"/>
<circle cx="193.5" cy="155.6" r="0.5" fill="#c9bfd4"/>
<circle cx="198.6" cy="166.9" r="0.5" fill="#d3dbef"/>
<circle cx="190.3" cy="168.5" r="0.5" fill="#6f90cc"/>
<circle cx="200.2" cy="164.7" r="0.5" fill="#d3dbef"/>
<circle cx="199.4" cy="160.0" r="0.5" fill="#6f90cc"/>
<circle cx="190.4" cy="164.0" r="0.5" fill="#6f90cc"/>
<circle cx="193.8" cy="158.7" r="0.5" fill="#8fa8d6"/>
<circle cx="198.9" cy="157.2" r="0.5" fill="#6f90cc"/>
<circle cx="204.4" cy="150.1" r="0.5" fill="#c9bfd4"/>
<circle cx="205.8" cy="167.0" r="0.5" fill="#b3c3e4"/>
<circle cx="195.3" cy="156.8" r="0.5" fill="#c9bfd4"/>
<circle cx="207.1" cy="164.0" r="0.5" fill="#6f90cc"/>
<circle cx="197.5" cy="162.2" r="0.5" fill="#b3c3e4"/>
<circle cx="185.5" cy="159.3" r="0.5" fill="#b3c3e4"/>
<circle cx="186.2" cy="158.1" r="0.5" fill="#c9bfd4"/>
<circle cx="185.0" cy="169.5" r="0.5" fill="#c9bfd4"/>
<circle cx="207.9" cy="150.9" r="0.5" fill="#c9bfd4"/>
<circle cx="202.5" cy="168.3" r="0.5" fill="#b3c3e4"/>
<circle cx="194.2" cy="153.7" r="0.5" fill="#8fa8d6"/>
<circle cx="201.2" cy="159.0" r="0.5" fill="#8fa8d6"/>
<circle cx="196.0" cy="154.9" r="0.5" fill="#b3c3e4"/>
<circle cx="203.6" cy="159.8" r="0.5" fill="#c9bfd4"/>
<circle cx="181.9" cy="159.6" r="0.5" fill="#b3c3e4"/>
<circle cx="200.1" cy="154.5" r="0.5" fill="#b3c3e4"/>
<circle cx="195.5" cy="168.8" r="0.5" fill="#8fa8d6"/>
<circle cx="184.8" cy="156.2" r="0.5" fill="#c9bfd4"/>
<circle cx="194.3" cy="155.7" r="0.5" fill="#d3dbef"/>
<circle cx="190.9" cy="158.5" r="0.5" fill="#8fa8d6"/>
<circle cx="185.4" cy="157.2" r="0.5" fill="#8fa8d6"/>
<circle cx="201.1" cy="172.0" r="0.5" fill="#8fa8d6"/>
<circle cx="194.7" cy="160.0" r="0.5" fill="#b3c3e4"/>
<circle cx="181.3" cy="165.5" r="0.5" fill="#b3c3e4"/>
<circle cx="189.8" cy="168.8" r="0.5" fill="#6f90cc"/>
<circle cx="189.9" cy="166.9" r="0.5" fill="#c9bfd4"/>
<circle cx="202.0" cy="153.7" r="0.5" fill="#d3dbef"/>
<circle cx="189.9" cy="154.6" r="0.5" fill="#8fa8d6"/>
<circle cx="203.6" cy="155.6" r="0.5" fill="#d3dbef"/>
<circle cx="191.7" cy="160.5" r="0.5" fill="#6f90cc"/>
<circle cx="204.9" cy="156.8" r="0.5" fill="#b3c3e4"/>
<circle cx="198.8" cy="167.2" r="0.5" fill="#6f90cc"/>
<circle cx="185.7" cy="165.3" r="0.5" fill="#b3c3e4"/>
<circle cx="196.8" cy="163.5" r="0.5" fill="#8fa8d6"/>
<circle cx="191.5" cy="161.7" r="0.5" fill="#d3dbef"/>
<circle cx="195.7" cy="150.0" r="0.5" fill="#6f90cc"/>
<circle cx="203.5" cy="159.8" r="0.5" fill="#8fa8d6"/>
<circle cx="202.6" cy="169.9" r="0.5" fill="#c9bfd4"/>
<circle cx="190.9" cy="152.2" r="0.5" fill="#c9bfd4"/>
<circle cx="205.0" cy="150.7" r="0.5" fill="#8fa8d6"/>
<circle cx="199.1" cy="159.4" r="0.5" fill="#b3c3e4"/>
<circle cx="181.3" cy="166.8" r="0.5" fill="#8fa8d6"/>
<circle cx="190.7" cy="167.9" r="0.5" fill="#6f90cc"/>
<circle cx="196.2" cy="154.8" r="0.5" fill="#6f90cc"/>
<circle cx="180.9" cy="161.9" r="0.5" fill="#c9bfd4"/>
<circle cx="206.6" cy="150.1" r="0.5" fill="#c9bfd4"/>
<circle cx="195.0" cy="167.9" r="0.5" fill="#d3dbef"/>
<circle cx="196.5" cy="170.1" r="0.5" fill="#d3dbef"/>
<circle cx="182.2" cy="164.6" r="0.5" fill="#c9bfd4"/>
<circle cx="197.0" cy="170.6" r="0.5" fill="#b3c3e4"/>
<circle cx="193.7" cy="158.4" r="0.5" fill="#8fa8d6"/>
</g>
<g clip-path="url(#cpBlue)">
<rect x="163" y="133.6" width="28.3" height="26" fill="#cdd8ee"/>
<g filter="url(#bl15)">
<ellipse cx="179.5" cy="149" rx="18" ry="11" fill="#2f68be"/>
<ellipse cx="178.5" cy="147.6" rx="11.5" ry="6.6" fill="#37a0d8"/>
<ellipse cx="178.2" cy="147.3" rx="7.6" ry="4.3" fill="#6cc25a"/>
<ellipse cx="178.2" cy="147.3" rx="4.8" ry="2.6" fill="#90cd30"/>
<ellipse cx="166" cy="157" rx="4" ry="3" fill="#9fb6e0"/>
</g>
<circle cx="165.3" cy="135.9" r="0.55" fill="#d6deef"/>
<circle cx="180.7" cy="135.7" r="0.55" fill="#d6deef"/>
<circle cx="182.4" cy="134.2" r="0.55" fill="#d6deef"/>
<circle cx="169.2" cy="134.2" r="0.55" fill="#b8c7e6"/>
<circle cx="163.5" cy="137.1" r="0.55" fill="#d6deef"/>
<circle cx="175.8" cy="137.2" r="0.55" fill="#d6deef"/>
<circle cx="173.4" cy="137.3" r="0.55" fill="#e8ecf6"/>
<circle cx="187.2" cy="137.2" r="0.55" fill="#d6deef"/>
<circle cx="171.3" cy="136.3" r="0.55" fill="#b8c7e6"/>
<circle cx="176.0" cy="138.2" r="0.55" fill="#b8c7e6"/>
<circle cx="188.9" cy="133.9" r="0.55" fill="#d6deef"/>
<circle cx="163.3" cy="133.7" r="0.55" fill="#e8ecf6"/>
<circle cx="182.4" cy="136.6" r="0.55" fill="#b8c7e6"/>
<circle cx="171.8" cy="137.2" r="0.55" fill="#d6deef"/>
<circle cx="190.1" cy="137.7" r="0.55" fill="#e8ecf6"/>
<circle cx="164.7" cy="135.4" r="0.55" fill="#e8ecf6"/>
<circle cx="183.6" cy="135.9" r="0.55" fill="#d6deef"/>
<circle cx="167.1" cy="137.5" r="0.55" fill="#b8c7e6"/>
<circle cx="190.0" cy="134.4" r="0.55" fill="#b8c7e6"/>
<circle cx="176.5" cy="137.4" r="0.55" fill="#b8c7e6"/>
<circle cx="189.7" cy="137.4" r="0.55" fill="#e8ecf6"/>
<circle cx="172.4" cy="135.0" r="0.55" fill="#e8ecf6"/>
<circle cx="190.6" cy="137.0" r="0.55" fill="#e8ecf6"/>
<circle cx="172.4" cy="136.6" r="0.55" fill="#d6deef"/>
<circle cx="186.5" cy="136.5" r="0.55" fill="#b8c7e6"/>
<circle cx="179.5" cy="138.4" r="0.55" fill="#d6deef"/>
<circle cx="173.7" cy="137.0" r="0.55" fill="#e8ecf6"/>
<circle cx="184.8" cy="134.7" r="0.55" fill="#b8c7e6"/>
<circle cx="171.0" cy="133.6" r="0.55" fill="#b8c7e6"/>
<circle cx="170.6" cy="134.4" r="0.55" fill="#d6deef"/>
<circle cx="171.2" cy="134.3" r="0.55" fill="#e8ecf6"/>
<circle cx="167.2" cy="138.4" r="0.55" fill="#e8ecf6"/>
<circle cx="182.4" cy="138.1" r="0.55" fill="#b8c7e6"/>
<circle cx="178.1" cy="136.2" r="0.55" fill="#b8c7e6"/>
<circle cx="185.6" cy="134.6" r="0.55" fill="#e8ecf6"/>
<circle cx="189.4" cy="134.7" r="0.55" fill="#e8ecf6"/>
<circle cx="164.6" cy="135.5" r="0.55" fill="#e8ecf6"/>
<circle cx="168.8" cy="134.8" r="0.55" fill="#d6deef"/>
<circle cx="185.4" cy="135.9" r="0.55" fill="#d6deef"/>
<circle cx="178.2" cy="135.3" r="0.55" fill="#d6deef"/>
<circle cx="169.6" cy="136.4" r="0.55" fill="#b8c7e6"/>
<circle cx="188.0" cy="136.2" r="0.55" fill="#b8c7e6"/>
<circle cx="177.3" cy="134.6" r="0.55" fill="#d6deef"/>
<circle cx="168.4" cy="134.5" r="0.55" fill="#e8ecf6"/>
<circle cx="171.2" cy="136.4" r="0.55" fill="#b8c7e6"/>
<circle cx="174.4" cy="136.1" r="0.55" fill="#d6deef"/>
<circle cx="170.0" cy="138.1" r="0.55" fill="#b8c7e6"/>
<circle cx="173.6" cy="134.1" r="0.55" fill="#e8ecf6"/>
<circle cx="176.1" cy="134.0" r="0.55" fill="#b8c7e6"/>
<circle cx="179.9" cy="135.3" r="0.55" fill="#e8ecf6"/>
<circle cx="180.2" cy="134.1" r="0.55" fill="#d6deef"/>
<circle cx="191.0" cy="137.8" r="0.55" fill="#b8c7e6"/>
<circle cx="179.6" cy="134.6" r="0.55" fill="#b8c7e6"/>
<circle cx="175.1" cy="138.2" r="0.55" fill="#e8ecf6"/>
<circle cx="186.2" cy="138.3" r="0.55" fill="#b8c7e6"/>
<circle cx="186.9" cy="135.3" r="0.55" fill="#d6deef"/>
<circle cx="173.7" cy="133.7" r="0.55" fill="#d6deef"/>
<circle cx="178.8" cy="137.9" r="0.55" fill="#b8c7e6"/>
<circle cx="176.8" cy="137.7" r="0.55" fill="#d6deef"/>
<circle cx="187.4" cy="136.7" r="0.55" fill="#d6deef"/>
<circle cx="183.0" cy="134.0" r="0.55" fill="#b8c7e6"/>
<circle cx="179.0" cy="136.7" r="0.55" fill="#e8ecf6"/>
<circle cx="177.3" cy="134.5" r="0.55" fill="#d6deef"/>
<circle cx="173.5" cy="134.8" r="0.55" fill="#e8ecf6"/>
<circle cx="169.3" cy="133.8" r="0.55" fill="#b8c7e6"/>
<circle cx="189.6" cy="133.9" r="0.55" fill="#e8ecf6"/>
<circle cx="188.6" cy="137.7" r="0.55" fill="#d6deef"/>
<circle cx="170.3" cy="136.1" r="0.55" fill="#e8ecf6"/>
<circle cx="181.3" cy="138.4" r="0.55" fill="#d6deef"/>
<circle cx="165.9" cy="135.2" r="0.55" fill="#d6deef"/>
<circle cx="189.6" cy="136.9" r="0.55" fill="#b8c7e6"/>
<circle cx="179.7" cy="135.8" r="0.55" fill="#e8ecf6"/>
<circle cx="166.0" cy="135.2" r="0.55" fill="#b8c7e6"/>
<circle cx="174.0" cy="135.4" r="0.55" fill="#b8c7e6"/>
<circle cx="167.8" cy="134.8" r="0.55" fill="#d6deef"/>
<circle cx="188.9" cy="138.0" r="0.55" fill="#b8c7e6"/>
<circle cx="183.3" cy="134.6" r="0.55" fill="#d6deef"/>
<circle cx="167.4" cy="137.7" r="0.55" fill="#d6deef"/>
<circle cx="189.4" cy="137.8" r="0.55" fill="#e8ecf6"/>
<circle cx="167.0" cy="135.8" r="0.55" fill="#d6deef"/>
<circle cx="189.2" cy="135.5" r="0.55" fill="#d6deef"/>
<circle cx="180.8" cy="135.8" r="0.55" fill="#b8c7e6"/>
<circle cx="172.1" cy="134.7" r="0.55" fill="#d6deef"/>
<circle cx="180.8" cy="134.3" r="0.55" fill="#d6deef"/>
<circle cx="183.8" cy="134.5" r="0.55" fill="#b8c7e6"/>
<circle cx="178.7" cy="134.3" r="0.55" fill="#d6deef"/>
<circle cx="170.5" cy="135.6" r="0.55" fill="#d6deef"/>
<circle cx="163.7" cy="136.4" r="0.55" fill="#b8c7e6"/>
<circle cx="172.5" cy="134.4" r="0.55" fill="#b8c7e6"/>
<circle cx="166.1" cy="135.8" r="0.55" fill="#b8c7e6"/>
<circle cx="166.2" cy="138.4" r="0.55" fill="#d6deef"/>
<circle cx="180.9" cy="137.5" r="0.55" fill="#d6deef"/>
<circle cx="178.8" cy="137.7" r="0.55" fill="#d6deef"/>
<circle cx="170.3" cy="134.6" r="0.55" fill="#b8c7e6"/>
<circle cx="175.2" cy="134.9" r="0.55" fill="#d6deef"/>
<circle cx="189.2" cy="134.1" r="0.55" fill="#b8c7e6"/>
<circle cx="174.8" cy="134.4" r="0.55" fill="#e8ecf6"/>
<circle cx="190.7" cy="134.3" r="0.55" fill="#e8ecf6"/>
<circle cx="163.5" cy="137.6" r="0.55" fill="#b8c7e6"/>
<circle cx="177.5" cy="135.8" r="0.55" fill="#e8ecf6"/>
<circle cx="171.1" cy="135.4" r="0.55" fill="#d6deef"/>
<circle cx="188.8" cy="134.7" r="0.55" fill="#e8ecf6"/>
<circle cx="168.1" cy="137.7" r="0.55" fill="#e8ecf6"/>
<circle cx="184.8" cy="137.1" r="0.55" fill="#d6deef"/>
<circle cx="180.0" cy="137.7" r="0.55" fill="#e8ecf6"/>
<circle cx="183.7" cy="137.3" r="0.55" fill="#d6deef"/>
<circle cx="168.8" cy="136.6" r="0.55" fill="#e8ecf6"/>
<circle cx="180.8" cy="134.5" r="0.55" fill="#b8c7e6"/>
<circle cx="168.7" cy="133.9" r="0.55" fill="#e8ecf6"/>
<circle cx="177.7" cy="137.7" r="0.55" fill="#d6deef"/>
</g>
<line x1="156.90" y1="173.60" x2="161.50" y2="173.60" stroke="#000" stroke-width="1.25" />
<line x1="158.70" y1="168.11" x2="161.50" y2="168.11" stroke="#000" stroke-width="1.25" />
<line x1="158.70" y1="164.89" x2="161.50" y2="164.89" stroke="#000" stroke-width="1.25" />
<line x1="158.70" y1="162.61" x2="161.50" y2="162.61" stroke="#000" stroke-width="1.25" />
<line x1="158.70" y1="160.84" x2="161.50" y2="160.84" stroke="#000" stroke-width="1.25" />
<line x1="158.70" y1="159.40" x2="161.50" y2="159.40" stroke="#000" stroke-width="1.25" />
<line x1="158.70" y1="158.18" x2="161.50" y2="158.18" stroke="#000" stroke-width="1.25" />
<line x1="158.70" y1="157.12" x2="161.50" y2="157.12" stroke="#000" stroke-width="1.25" />
<line x1="158.70" y1="156.19" x2="161.50" y2="156.19" stroke="#000" stroke-width="1.25" />
<line x1="156.90" y1="155.35" x2="161.50" y2="155.35" stroke="#000" stroke-width="1.25" />
<line x1="158.70" y1="149.86" x2="161.50" y2="149.86" stroke="#000" stroke-width="1.25" />
<line x1="158.70" y1="146.64" x2="161.50" y2="146.64" stroke="#000" stroke-width="1.25" />
<line x1="158.70" y1="144.36" x2="161.50" y2="144.36" stroke="#000" stroke-width="1.25" />
<line x1="158.70" y1="142.59" x2="161.50" y2="142.59" stroke="#000" stroke-width="1.25" />
<line x1="158.70" y1="141.15" x2="161.50" y2="141.15" stroke="#000" stroke-width="1.25" />
<line x1="158.70" y1="139.93" x2="161.50" y2="139.93" stroke="#000" stroke-width="1.25" />
<line x1="158.70" y1="138.87" x2="161.50" y2="138.87" stroke="#000" stroke-width="1.25" />
<line x1="158.70" y1="137.94" x2="161.50" y2="137.94" stroke="#000" stroke-width="1.25" />
<line x1="156.90" y1="137.10" x2="161.50" y2="137.10" stroke="#000" stroke-width="1.25" />
<line x1="158.70" y1="131.61" x2="161.50" y2="131.61" stroke="#000" stroke-width="1.25" />
<line x1="158.70" y1="128.39" x2="161.50" y2="128.39" stroke="#000" stroke-width="1.25" />
<line x1="158.70" y1="126.11" x2="161.50" y2="126.11" stroke="#000" stroke-width="1.25" />
<line x1="158.70" y1="124.34" x2="161.50" y2="124.34" stroke="#000" stroke-width="1.25" />
<line x1="158.70" y1="122.90" x2="161.50" y2="122.90" stroke="#000" stroke-width="1.25" />
<line x1="158.70" y1="121.68" x2="161.50" y2="121.68" stroke="#000" stroke-width="1.25" />
<line x1="158.70" y1="120.62" x2="161.50" y2="120.62" stroke="#000" stroke-width="1.25" />
<line x1="158.70" y1="119.69" x2="161.50" y2="119.69" stroke="#000" stroke-width="1.25" />
<line x1="156.90" y1="118.85" x2="161.50" y2="118.85" stroke="#000" stroke-width="1.25" />
<line x1="158.70" y1="113.36" x2="161.50" y2="113.36" stroke="#000" stroke-width="1.25" />
<line x1="158.70" y1="110.14" x2="161.50" y2="110.14" stroke="#000" stroke-width="1.25" />
<line x1="158.70" y1="107.86" x2="161.50" y2="107.86" stroke="#000" stroke-width="1.25" />
<line x1="158.70" y1="106.09" x2="161.50" y2="106.09" stroke="#000" stroke-width="1.25" />
<line x1="158.70" y1="104.65" x2="161.50" y2="104.65" stroke="#000" stroke-width="1.25" />
<line x1="158.70" y1="103.43" x2="161.50" y2="103.43" stroke="#000" stroke-width="1.25" />
<line x1="158.70" y1="102.37" x2="161.50" y2="102.37" stroke="#000" stroke-width="1.25" />
<line x1="158.70" y1="101.44" x2="161.50" y2="101.44" stroke="#000" stroke-width="1.25" />
<line x1="156.90" y1="100.60" x2="161.50" y2="100.60" stroke="#000" stroke-width="1.25" />
<line x1="161.50" y1="173.60" x2="161.50" y2="178.60" stroke="#000" stroke-width="1.25" />
<line x1="166.90" y1="173.60" x2="166.90" y2="176.60" stroke="#000" stroke-width="1.25" />
<line x1="170.06" y1="173.60" x2="170.06" y2="176.60" stroke="#000" stroke-width="1.25" />
<line x1="172.31" y1="173.60" x2="172.31" y2="176.60" stroke="#000" stroke-width="1.25" />
<line x1="174.05" y1="173.60" x2="174.05" y2="176.60" stroke="#000" stroke-width="1.25" />
<line x1="175.47" y1="173.60" x2="175.47" y2="176.60" stroke="#000" stroke-width="1.25" />
<line x1="176.67" y1="173.60" x2="176.67" y2="176.60" stroke="#000" stroke-width="1.25" />
<line x1="177.71" y1="173.60" x2="177.71" y2="176.60" stroke="#000" stroke-width="1.25" />
<line x1="178.63" y1="173.60" x2="178.63" y2="176.60" stroke="#000" stroke-width="1.25" />
<line x1="179.45" y1="173.60" x2="179.45" y2="178.60" stroke="#000" stroke-width="1.25" />
<line x1="184.85" y1="173.60" x2="184.85" y2="176.60" stroke="#000" stroke-width="1.25" />
<line x1="188.01" y1="173.60" x2="188.01" y2="176.60" stroke="#000" stroke-width="1.25" />
<line x1="190.26" y1="173.60" x2="190.26" y2="176.60" stroke="#000" stroke-width="1.25" />
<line x1="192.00" y1="173.60" x2="192.00" y2="176.60" stroke="#000" stroke-width="1.25" />
<line x1="193.42" y1="173.60" x2="193.42" y2="176.60" stroke="#000" stroke-width="1.25" />
<line x1="194.62" y1="173.60" x2="194.62" y2="176.60" stroke="#000" stroke-width="1.25" />
<line x1="195.66" y1="173.60" x2="195.66" y2="176.60" stroke="#000" stroke-width="1.25" />
<line x1="196.58" y1="173.60" x2="196.58" y2="176.60" stroke="#000" stroke-width="1.25" />
<line x1="197.40" y1="173.60" x2="197.40" y2="178.60" stroke="#000" stroke-width="1.25" />
<line x1="202.80" y1="173.60" x2="202.80" y2="176.60" stroke="#000" stroke-width="1.25" />
<line x1="205.96" y1="173.60" x2="205.96" y2="176.60" stroke="#000" stroke-width="1.25" />
<line x1="208.21" y1="173.60" x2="208.21" y2="176.60" stroke="#000" stroke-width="1.25" />
<line x1="209.95" y1="173.60" x2="209.95" y2="176.60" stroke="#000" stroke-width="1.25" />
<line x1="211.37" y1="173.60" x2="211.37" y2="176.60" stroke="#000" stroke-width="1.25" />
<line x1="212.57" y1="173.60" x2="212.57" y2="176.60" stroke="#000" stroke-width="1.25" />
<line x1="213.61" y1="173.60" x2="213.61" y2="176.60" stroke="#000" stroke-width="1.25" />
<line x1="214.53" y1="173.60" x2="214.53" y2="176.60" stroke="#000" stroke-width="1.25" />
<line x1="215.35" y1="173.60" x2="215.35" y2="178.60" stroke="#000" stroke-width="1.25" />
<line x1="220.75" y1="173.60" x2="220.75" y2="176.60" stroke="#000" stroke-width="1.25" />
<line x1="223.91" y1="173.60" x2="223.91" y2="176.60" stroke="#000" stroke-width="1.25" />
<line x1="226.16" y1="173.60" x2="226.16" y2="176.60" stroke="#000" stroke-width="1.25" />
<line x1="227.90" y1="173.60" x2="227.90" y2="176.60" stroke="#000" stroke-width="1.25" />
<line x1="229.32" y1="173.60" x2="229.32" y2="176.60" stroke="#000" stroke-width="1.25" />
<line x1="230.52" y1="173.60" x2="230.52" y2="176.60" stroke="#000" stroke-width="1.25" />
<line x1="231.56" y1="173.60" x2="231.56" y2="176.60" stroke="#000" stroke-width="1.25" />
<line x1="232.48" y1="173.60" x2="232.48" y2="176.60" stroke="#000" stroke-width="1.25" />
<line x1="233.30" y1="173.60" x2="233.30" y2="178.60" stroke="#000" stroke-width="1.25" />
<rect x="161.50" y="100.60" width="71.80" height="73.00" fill="none" stroke="#000" stroke-width="1.9"/>
<rect x="163" y="133.6" width="28.3" height="26" fill="none" stroke="#243a6e" stroke-width="1.9"/>
<path d="M180.6,171.7 L180.6,160.2 L191.9,148.9 L207.2,148.9 L208.6,150.3 L208.6,171.7 Z" fill="none" stroke="#a0133c" stroke-width="1.9" stroke-linejoin="miter"/>
<line x1="191.30" y1="141.20" x2="250.86" y2="102.88" stroke="#000" stroke-width="1.9" />
<path d="M258.60,97.90 L251.13,108.65 L250.44,103.15 L245.72,100.24 Z" fill="#000"/>
<line x1="208.80" y1="161.30" x2="250.14" y2="188.80" stroke="#000" stroke-width="1.9" />
<path d="M257.80,193.90 L244.96,191.36 L249.72,188.53 L250.50,183.03 Z" fill="#000"/>
<line x1="148.90" y1="187.70" x2="148.90" y2="170.00" stroke="#000" stroke-width="1.9" />
<path d="M148.90,162.20 L153.90,174.30 L148.90,171.90 L143.90,174.30 Z" fill="#000"/>
<line x1="148.00" y1="187.70" x2="163.00" y2="187.70" stroke="#000" stroke-width="1.9" />
<path d="M172.60,187.70 L160.50,192.70 L162.90,187.70 L160.50,182.70 Z" fill="#000"/>
<text x="153.00" y="151.50" font-size="15.3" text-anchor="start" fill="#111" textLength="37" lengthAdjust="spacingAndGlyphs" transform="rotate(-90 153.00 151.50)" >CD127</text>
<text x="180.80" y="194.50" font-size="15.3" text-anchor="start" fill="#111" textLength="30.5" lengthAdjust="spacingAndGlyphs" >CD25</text>
<text x="307.90" y="40.90" font-size="14.5" text-anchor="start" fill="#111" textLength="38.1" lengthAdjust="spacingAndGlyphs" >Tcons</text>
<text x="309.40" y="146.80" font-size="14.5" text-anchor="start" fill="#111" textLength="35.6" lengthAdjust="spacingAndGlyphs" >Tregs</text>
<g filter="url(#bl05)">
<path d="M316.7,73 C316.5,69 319,67 322.3,66.9 L328.4,66.6 C330,67 330.3,69 330.1,71.1 C329.8,76 329.8,80 329.9,82.3 C330.6,88 330.6,98 330.1,104.6 C329.8,109 329,113 327.5,117 C326.8,119.2 325.8,119.2 325.3,118 C324,115 323,110 321.7,104.6 C320.5,99 318.8,90 317.8,82.3 C317.2,78 316.8,75 316.7,73 Z" fill="#1f4fa3"/>
<path d="M318.2,73.5 C318.1,70.3 320,68.6 322.5,68.5 L327.8,68.3 C328.7,68.6 328.8,70 328.7,71.5 C328.4,76 328.4,80 328.5,82.5 C329.1,88 329.1,98 328.6,104.4 C328.3,108.5 327.6,112 326.4,115.2 C325.2,112 324.3,108 323.2,104 C322,98.5 320.3,90 319.3,82.5 C318.7,78 318.3,75.5 318.2,73.5 Z" fill="#3c9bd8"/>
<path d="M319.8,74 C319.8,71.5 321.5,70 323,70 L326.8,70 C327.5,70.5 327.4,72 327.3,74 C327,80 327,88 326.6,96 C326.4,102 326,107 325.6,110 C324.6,104 322.8,96 321.5,88 C320.6,82 319.9,77 319.8,74 Z" fill="#52c0e6"/>
<path d="M320.5,74 C320.6,71.8 322,71 323.4,71 L326,71 C326.6,72 326.5,75 326.2,80 C325.8,86 325.5,92 325.2,97 C324,91 322.3,84 321.3,79 C320.8,77 320.5,75.5 320.5,74 Z" fill="#62c48e"/>
<ellipse cx="325.5" cy="100.5" rx="1.3" ry="5" fill="#6cc88c"/>
<ellipse cx="323.6" cy="74.2" rx="3" ry="4.6" fill="#a5d63e"/>
<ellipse cx="323.5" cy="73" rx="2.2" ry="2.8" fill="#efb526"/>
<ellipse cx="323.4" cy="72.3" rx="1.3" ry="1.5" fill="#df3a1c"/>
</g>
<line x1="286.20" y1="121.60" x2="290.80" y2="121.60" stroke="#000" stroke-width="1.25" />
<line x1="288.00" y1="116.12" x2="290.80" y2="116.12" stroke="#000" stroke-width="1.25" />
<line x1="288.00" y1="112.92" x2="290.80" y2="112.92" stroke="#000" stroke-width="1.25" />
<line x1="288.00" y1="110.64" x2="290.80" y2="110.64" stroke="#000" stroke-width="1.25" />
<line x1="288.00" y1="108.88" x2="290.80" y2="108.88" stroke="#000" stroke-width="1.25" />
<line x1="288.00" y1="107.44" x2="290.80" y2="107.44" stroke="#000" stroke-width="1.25" />
<line x1="288.00" y1="106.22" x2="290.80" y2="106.22" stroke="#000" stroke-width="1.25" />
<line x1="288.00" y1="105.16" x2="290.80" y2="105.16" stroke="#000" stroke-width="1.25" />
<line x1="288.00" y1="104.23" x2="290.80" y2="104.23" stroke="#000" stroke-width="1.25" />
<line x1="286.20" y1="103.40" x2="290.80" y2="103.40" stroke="#000" stroke-width="1.25" />
<line x1="288.00" y1="97.92" x2="290.80" y2="97.92" stroke="#000" stroke-width="1.25" />
<line x1="288.00" y1="94.72" x2="290.80" y2="94.72" stroke="#000" stroke-width="1.25" />
<line x1="288.00" y1="92.44" x2="290.80" y2="92.44" stroke="#000" stroke-width="1.25" />
<line x1="288.00" y1="90.68" x2="290.80" y2="90.68" stroke="#000" stroke-width="1.25" />
<line x1="288.00" y1="89.24" x2="290.80" y2="89.24" stroke="#000" stroke-width="1.25" />
<line x1="288.00" y1="88.02" x2="290.80" y2="88.02" stroke="#000" stroke-width="1.25" />
<line x1="288.00" y1="86.96" x2="290.80" y2="86.96" stroke="#000" stroke-width="1.25" />
<line x1="288.00" y1="86.03" x2="290.80" y2="86.03" stroke="#000" stroke-width="1.25" />
<line x1="286.20" y1="85.20" x2="290.80" y2="85.20" stroke="#000" stroke-width="1.25" />
<line x1="288.00" y1="79.72" x2="290.80" y2="79.72" stroke="#000" stroke-width="1.25" />
<line x1="288.00" y1="76.52" x2="290.80" y2="76.52" stroke="#000" stroke-width="1.25" />
<line x1="288.00" y1="74.24" x2="290.80" y2="74.24" stroke="#000" stroke-width="1.25" />
<line x1="288.00" y1="72.48" x2="290.80" y2="72.48" stroke="#000" stroke-width="1.25" />
<line x1="288.00" y1="71.04" x2="290.80" y2="71.04" stroke="#000" stroke-width="1.25" />
<line x1="288.00" y1="69.82" x2="290.80" y2="69.82" stroke="#000" stroke-width="1.25" />
<line x1="288.00" y1="68.76" x2="290.80" y2="68.76" stroke="#000" stroke-width="1.25" />
<line x1="288.00" y1="67.83" x2="290.80" y2="67.83" stroke="#000" stroke-width="1.25" />
<line x1="286.20" y1="67.00" x2="290.80" y2="67.00" stroke="#000" stroke-width="1.25" />
<line x1="288.00" y1="61.52" x2="290.80" y2="61.52" stroke="#000" stroke-width="1.25" />
<line x1="288.00" y1="58.32" x2="290.80" y2="58.32" stroke="#000" stroke-width="1.25" />
<line x1="288.00" y1="56.04" x2="290.80" y2="56.04" stroke="#000" stroke-width="1.25" />
<line x1="288.00" y1="54.28" x2="290.80" y2="54.28" stroke="#000" stroke-width="1.25" />
<line x1="288.00" y1="52.84" x2="290.80" y2="52.84" stroke="#000" stroke-width="1.25" />
<line x1="288.00" y1="51.62" x2="290.80" y2="51.62" stroke="#000" stroke-width="1.25" />
<line x1="288.00" y1="50.56" x2="290.80" y2="50.56" stroke="#000" stroke-width="1.25" />
<line x1="288.00" y1="49.63" x2="290.80" y2="49.63" stroke="#000" stroke-width="1.25" />
<line x1="286.20" y1="48.80" x2="290.80" y2="48.80" stroke="#000" stroke-width="1.25" />
<line x1="290.80" y1="121.60" x2="290.80" y2="126.60" stroke="#000" stroke-width="1.25" />
<line x1="296.20" y1="121.60" x2="296.20" y2="124.60" stroke="#000" stroke-width="1.25" />
<line x1="299.36" y1="121.60" x2="299.36" y2="124.60" stroke="#000" stroke-width="1.25" />
<line x1="301.61" y1="121.60" x2="301.61" y2="124.60" stroke="#000" stroke-width="1.25" />
<line x1="303.35" y1="121.60" x2="303.35" y2="124.60" stroke="#000" stroke-width="1.25" />
<line x1="304.77" y1="121.60" x2="304.77" y2="124.60" stroke="#000" stroke-width="1.25" />
<line x1="305.97" y1="121.60" x2="305.97" y2="124.60" stroke="#000" stroke-width="1.25" />
<line x1="307.01" y1="121.60" x2="307.01" y2="124.60" stroke="#000" stroke-width="1.25" />
<line x1="307.93" y1="121.60" x2="307.93" y2="124.60" stroke="#000" stroke-width="1.25" />
<line x1="308.75" y1="121.60" x2="308.75" y2="126.60" stroke="#000" stroke-width="1.25" />
<line x1="314.15" y1="121.60" x2="314.15" y2="124.60" stroke="#000" stroke-width="1.25" />
<line x1="317.31" y1="121.60" x2="317.31" y2="124.60" stroke="#000" stroke-width="1.25" />
<line x1="319.56" y1="121.60" x2="319.56" y2="124.60" stroke="#000" stroke-width="1.25" />
<line x1="321.30" y1="121.60" x2="321.30" y2="124.60" stroke="#000" stroke-width="1.25" />
<line x1="322.72" y1="121.60" x2="322.72" y2="124.60" stroke="#000" stroke-width="1.25" />
<line x1="323.92" y1="121.60" x2="323.92" y2="124.60" stroke="#000" stroke-width="1.25" />
<line x1="324.96" y1="121.60" x2="324.96" y2="124.60" stroke="#000" stroke-width="1.25" />
<line x1="325.88" y1="121.60" x2="325.88" y2="124.60" stroke="#000" stroke-width="1.25" />
<line x1="326.70" y1="121.60" x2="326.70" y2="126.60" stroke="#000" stroke-width="1.25" />
<line x1="332.10" y1="121.60" x2="332.10" y2="124.60" stroke="#000" stroke-width="1.25" />
<line x1="335.26" y1="121.60" x2="335.26" y2="124.60" stroke="#000" stroke-width="1.25" />
<line x1="337.51" y1="121.60" x2="337.51" y2="124.60" stroke="#000" stroke-width="1.25" />
<line x1="339.25" y1="121.60" x2="339.25" y2="124.60" stroke="#000" stroke-width="1.25" />
<line x1="340.67" y1="121.60" x2="340.67" y2="124.60" stroke="#000" stroke-width="1.25" />
<line x1="341.87" y1="121.60" x2="341.87" y2="124.60" stroke="#000" stroke-width="1.25" />
<line x1="342.91" y1="121.60" x2="342.91" y2="124.60" stroke="#000" stroke-width="1.25" />
<line x1="343.83" y1="121.60" x2="343.83" y2="124.60" stroke="#000" stroke-width="1.25" />
<line x1="344.65" y1="121.60" x2="344.65" y2="126.60" stroke="#000" stroke-width="1.25" />
<line x1="350.05" y1="121.60" x2="350.05" y2="124.60" stroke="#000" stroke-width="1.25" />
<line x1="353.21" y1="121.60" x2="353.21" y2="124.60" stroke="#000" stroke-width="1.25" />
<line x1="355.46" y1="121.60" x2="355.46" y2="124.60" stroke="#000" stroke-width="1.25" />
<line x1="357.20" y1="121.60" x2="357.20" y2="124.60" stroke="#000" stroke-width="1.25" />
<line x1="358.62" y1="121.60" x2="358.62" y2="124.60" stroke="#000" stroke-width="1.25" />
<line x1="359.82" y1="121.60" x2="359.82" y2="124.60" stroke="#000" stroke-width="1.25" />
<line x1="360.86" y1="121.60" x2="360.86" y2="124.60" stroke="#000" stroke-width="1.25" />
<line x1="361.78" y1="121.60" x2="361.78" y2="124.60" stroke="#000" stroke-width="1.25" />
<line x1="362.60" y1="121.60" x2="362.60" y2="126.60" stroke="#000" stroke-width="1.25" />
<rect x="290.80" y="48.80" width="71.80" height="72.80" fill="none" stroke="#000" stroke-width="1.9"/>
<line x1="309.60" y1="61.40" x2="340.20" y2="61.40" stroke="#243a6e" stroke-width="2" stroke-linecap="square" stroke-dasharray="2.40 7.80" stroke-dashoffset="1.20"/>
<line x1="340.20" y1="61.40" x2="340.20" y2="89.60" stroke="#243a6e" stroke-width="2" stroke-linecap="square" stroke-dasharray="2.40 7.00" stroke-dashoffset="1.20"/>
<line x1="340.20" y1="89.60" x2="309.60" y2="89.60" stroke="#243a6e" stroke-width="2" stroke-linecap="square" stroke-dasharray="2.40 7.80" stroke-dashoffset="1.20"/>
<line x1="309.60" y1="89.60" x2="309.60" y2="61.40" stroke="#243a6e" stroke-width="2" stroke-linecap="square" stroke-dasharray="2.40 7.00" stroke-dashoffset="1.20"/>
<rect x="310" y="93" width="30.2" height="25.2" fill="none" stroke="#243a6e" stroke-width="2"/>
<g filter="url(#bl05)">
<path d="M316.8,176.4 C316.8,173.5 319,172.5 321.4,172.4 L327,172 C328.3,172.3 328.9,174 328.8,176.4 C328.6,181 328.2,185 328.2,187.7 C328,191 327.6,193 327.6,194.5 C327.8,198 328.4,200 328.8,202.5 C329.4,206 329.9,208 329.9,210.5 C329.8,214 329.3,216 329.3,218.4 C329.2,221 329.1,223 328.9,225.5 L320.6,225.5 C320.3,223 320,221 319.7,218.4 C319.4,215 319.1,213 319.1,210.5 C318.7,207 318.3,205 318.2,202.5 C318.2,199 318.2,197 318,194.5 C317.6,192 317.1,190 317,187.7 C316.9,183 316.8,179 316.8,176.4 Z" fill="#1f4fa3"/>
<path d="M318.3,177 C318.4,174.8 320,174 321.6,174 L326.2,173.7 C327,174 327.3,175.3 327.2,177 C327,181 326.6,185 326.5,188 C326.3,191 326,193 326,194.7 C326.2,198 326.9,200 327.3,203 C327.9,206 328.3,208 328.3,210.5 C328.2,214 327.8,216.5 327.7,219 C327.6,221 327.5,222.5 327.4,224 L321.9,224 C321.7,222 321.5,220.5 321.3,218.5 C321,215 320.7,213 320.7,210.5 C320.3,207 319.9,205 319.8,202.5 C319.8,199 319.7,197 319.5,194.5 C319.1,192 318.6,190 318.5,187.7 C318.4,183 318.3,179 318.3,177 Z" fill="#3d9fda"/>
<path d="M319.6,178 C319.7,176 321,175.3 322.2,175.3 L325.7,175.2 C326.2,176 326.1,178 325.9,180 C325.6,184 325.3,188 325.1,191 C324.8,193.5 324.6,195 324.5,196.5 L322.6,196.5 C322,194 321,191 320.4,188 C319.9,185 319.6,181 319.6,178 Z" fill="#55c2e4"/>
<ellipse cx="323" cy="183" rx="2.8" ry="7.5" fill="#66c583"/>
<ellipse cx="322.9" cy="181" rx="2.1" ry="4.6" fill="#b9d838"/>
<ellipse cx="322.8" cy="179.5" rx="1.5" ry="2.6" fill="#eeb321"/>
<ellipse cx="322.8" cy="179.1" rx="0.9" ry="1.4" fill="#ec7d1d"/>
<ellipse cx="324.6" cy="206" rx="3" ry="9" fill="#52bfd8"/>
<ellipse cx="324.8" cy="205.5" rx="2.3" ry="6.5" fill="#6fc77c"/>
<ellipse cx="324.9" cy="205" rx="1.4" ry="3.6" fill="#acd536"/>
<ellipse cx="324.9" cy="204.8" rx="0.8" ry="1.8" fill="#dede2a"/>
</g>
<line x1="287.00" y1="226.50" x2="291.60" y2="226.50" stroke="#000" stroke-width="1.25" />
<line x1="288.80" y1="221.04" x2="291.60" y2="221.04" stroke="#000" stroke-width="1.25" />
<line x1="288.80" y1="217.84" x2="291.60" y2="217.84" stroke="#000" stroke-width="1.25" />
<line x1="288.80" y1="215.57" x2="291.60" y2="215.57" stroke="#000" stroke-width="1.25" />
<line x1="288.80" y1="213.81" x2="291.60" y2="213.81" stroke="#000" stroke-width="1.25" />
<line x1="288.80" y1="212.38" x2="291.60" y2="212.38" stroke="#000" stroke-width="1.25" />
<line x1="288.80" y1="211.16" x2="291.60" y2="211.16" stroke="#000" stroke-width="1.25" />
<line x1="288.80" y1="210.11" x2="291.60" y2="210.11" stroke="#000" stroke-width="1.25" />
<line x1="288.80" y1="209.18" x2="291.60" y2="209.18" stroke="#000" stroke-width="1.25" />
<line x1="287.00" y1="208.35" x2="291.60" y2="208.35" stroke="#000" stroke-width="1.25" />
<line x1="288.80" y1="202.89" x2="291.60" y2="202.89" stroke="#000" stroke-width="1.25" />
<line x1="288.80" y1="199.69" x2="291.60" y2="199.69" stroke="#000" stroke-width="1.25" />
<line x1="288.80" y1="197.42" x2="291.60" y2="197.42" stroke="#000" stroke-width="1.25" />
<line x1="288.80" y1="195.66" x2="291.60" y2="195.66" stroke="#000" stroke-width="1.25" />
<line x1="288.80" y1="194.23" x2="291.60" y2="194.23" stroke="#000" stroke-width="1.25" />
<line x1="288.80" y1="193.01" x2="291.60" y2="193.01" stroke="#000" stroke-width="1.25" />
<line x1="288.80" y1="191.96" x2="291.60" y2="191.96" stroke="#000" stroke-width="1.25" />
<line x1="288.80" y1="191.03" x2="291.60" y2="191.03" stroke="#000" stroke-width="1.25" />
<line x1="287.00" y1="190.20" x2="291.60" y2="190.20" stroke="#000" stroke-width="1.25" />
<line x1="288.80" y1="184.74" x2="291.60" y2="184.74" stroke="#000" stroke-width="1.25" />
<line x1="288.80" y1="181.54" x2="291.60" y2="181.54" stroke="#000" stroke-width="1.25" />
<line x1="288.80" y1="179.27" x2="291.60" y2="179.27" stroke="#000" stroke-width="1.25" />
<line x1="288.80" y1="177.51" x2="291.60" y2="177.51" stroke="#000" stroke-width="1.25" />
<line x1="288.80" y1="176.08" x2="291.60" y2="176.08" stroke="#000" stroke-width="1.25" />
<line x1="288.80" y1="174.86" x2="291.60" y2="174.86" stroke="#000" stroke-width="1.25" />
<line x1="288.80" y1="173.81" x2="291.60" y2="173.81" stroke="#000" stroke-width="1.25" />
<line x1="288.80" y1="172.88" x2="291.60" y2="172.88" stroke="#000" stroke-width="1.25" />
<line x1="287.00" y1="172.05" x2="291.60" y2="172.05" stroke="#000" stroke-width="1.25" />
<line x1="288.80" y1="166.59" x2="291.60" y2="166.59" stroke="#000" stroke-width="1.25" />
<line x1="288.80" y1="163.39" x2="291.60" y2="163.39" stroke="#000" stroke-width="1.25" />
<line x1="288.80" y1="161.12" x2="291.60" y2="161.12" stroke="#000" stroke-width="1.25" />
<line x1="288.80" y1="159.36" x2="291.60" y2="159.36" stroke="#000" stroke-width="1.25" />
<line x1="288.80" y1="157.93" x2="291.60" y2="157.93" stroke="#000" stroke-width="1.25" />
<line x1="288.80" y1="156.71" x2="291.60" y2="156.71" stroke="#000" stroke-width="1.25" />
<line x1="288.80" y1="155.66" x2="291.60" y2="155.66" stroke="#000" stroke-width="1.25" />
<line x1="288.80" y1="154.73" x2="291.60" y2="154.73" stroke="#000" stroke-width="1.25" />
<line x1="287.00" y1="153.90" x2="291.60" y2="153.90" stroke="#000" stroke-width="1.25" />
<line x1="291.60" y1="226.50" x2="291.60" y2="231.50" stroke="#000" stroke-width="1.25" />
<line x1="296.96" y1="226.50" x2="296.96" y2="229.50" stroke="#000" stroke-width="1.25" />
<line x1="300.09" y1="226.50" x2="300.09" y2="229.50" stroke="#000" stroke-width="1.25" />
<line x1="302.32" y1="226.50" x2="302.32" y2="229.50" stroke="#000" stroke-width="1.25" />
<line x1="304.04" y1="226.50" x2="304.04" y2="229.50" stroke="#000" stroke-width="1.25" />
<line x1="305.45" y1="226.50" x2="305.45" y2="229.50" stroke="#000" stroke-width="1.25" />
<line x1="306.64" y1="226.50" x2="306.64" y2="229.50" stroke="#000" stroke-width="1.25" />
<line x1="307.68" y1="226.50" x2="307.68" y2="229.50" stroke="#000" stroke-width="1.25" />
<line x1="308.59" y1="226.50" x2="308.59" y2="229.50" stroke="#000" stroke-width="1.25" />
<line x1="309.40" y1="226.50" x2="309.40" y2="231.50" stroke="#000" stroke-width="1.25" />
<line x1="314.76" y1="226.50" x2="314.76" y2="229.50" stroke="#000" stroke-width="1.25" />
<line x1="317.89" y1="226.50" x2="317.89" y2="229.50" stroke="#000" stroke-width="1.25" />
<line x1="320.12" y1="226.50" x2="320.12" y2="229.50" stroke="#000" stroke-width="1.25" />
<line x1="321.84" y1="226.50" x2="321.84" y2="229.50" stroke="#000" stroke-width="1.25" />
<line x1="323.25" y1="226.50" x2="323.25" y2="229.50" stroke="#000" stroke-width="1.25" />
<line x1="324.44" y1="226.50" x2="324.44" y2="229.50" stroke="#000" stroke-width="1.25" />
<line x1="325.48" y1="226.50" x2="325.48" y2="229.50" stroke="#000" stroke-width="1.25" />
<line x1="326.39" y1="226.50" x2="326.39" y2="229.50" stroke="#000" stroke-width="1.25" />
<line x1="327.20" y1="226.50" x2="327.20" y2="231.50" stroke="#000" stroke-width="1.25" />
<line x1="332.56" y1="226.50" x2="332.56" y2="229.50" stroke="#000" stroke-width="1.25" />
<line x1="335.69" y1="226.50" x2="335.69" y2="229.50" stroke="#000" stroke-width="1.25" />
<line x1="337.92" y1="226.50" x2="337.92" y2="229.50" stroke="#000" stroke-width="1.25" />
<line x1="339.64" y1="226.50" x2="339.64" y2="229.50" stroke="#000" stroke-width="1.25" />
<line x1="341.05" y1="226.50" x2="341.05" y2="229.50" stroke="#000" stroke-width="1.25" />
<line x1="342.24" y1="226.50" x2="342.24" y2="229.50" stroke="#000" stroke-width="1.25" />
<line x1="343.28" y1="226.50" x2="343.28" y2="229.50" stroke="#000" stroke-width="1.25" />
<line x1="344.19" y1="226.50" x2="344.19" y2="229.50" stroke="#000" stroke-width="1.25" />
<line x1="345.00" y1="226.50" x2="345.00" y2="231.50" stroke="#000" stroke-width="1.25" />
<line x1="350.36" y1="226.50" x2="350.36" y2="229.50" stroke="#000" stroke-width="1.25" />
<line x1="353.49" y1="226.50" x2="353.49" y2="229.50" stroke="#000" stroke-width="1.25" />
<line x1="355.72" y1="226.50" x2="355.72" y2="229.50" stroke="#000" stroke-width="1.25" />
<line x1="357.44" y1="226.50" x2="357.44" y2="229.50" stroke="#000" stroke-width="1.25" />
<line x1="358.85" y1="226.50" x2="358.85" y2="229.50" stroke="#000" stroke-width="1.25" />
<line x1="360.04" y1="226.50" x2="360.04" y2="229.50" stroke="#000" stroke-width="1.25" />
<line x1="361.08" y1="226.50" x2="361.08" y2="229.50" stroke="#000" stroke-width="1.25" />
<line x1="361.99" y1="226.50" x2="361.99" y2="229.50" stroke="#000" stroke-width="1.25" />
<line x1="362.80" y1="226.50" x2="362.80" y2="231.50" stroke="#000" stroke-width="1.25" />
<rect x="291.60" y="153.90" width="71.20" height="72.60" fill="none" stroke="#000" stroke-width="1.9"/>
<line x1="308.90" y1="166.40" x2="339.20" y2="166.40" stroke="#a0133c" stroke-width="2" stroke-linecap="square" stroke-dasharray="2.40 7.70" stroke-dashoffset="1.20"/>
<line x1="339.20" y1="166.40" x2="339.20" y2="194.70" stroke="#a0133c" stroke-width="2" stroke-linecap="square" stroke-dasharray="2.40 7.03" stroke-dashoffset="1.20"/>
<line x1="339.20" y1="194.70" x2="308.90" y2="194.70" stroke="#a0133c" stroke-width="2" stroke-linecap="square" stroke-dasharray="2.40 7.70" stroke-dashoffset="1.20"/>
<line x1="308.90" y1="194.70" x2="308.90" y2="166.40" stroke="#a0133c" stroke-width="2" stroke-linecap="square" stroke-dasharray="2.40 7.03" stroke-dashoffset="1.20"/>
<rect x="308.9" y="198.4" width="30.3" height="26.2" fill="none" stroke="#a0133c" stroke-width="2"/>
<line x1="275.90" y1="241.60" x2="275.90" y2="120.00" stroke="#000" stroke-width="1.9" />
<path d="M275.90,112.20 L280.90,124.30 L275.90,121.90 L270.90,124.30 Z" fill="#000"/>
<line x1="275.00" y1="241.60" x2="290.00" y2="241.60" stroke="#000" stroke-width="1.9" />
<path d="M299.00,241.60 L286.90,246.60 L289.30,241.60 L286.90,236.60 Z" fill="#000"/>
<text x="278.80" y="106.30" font-size="15.3" text-anchor="start" fill="#111" textLength="47.5" lengthAdjust="spacingAndGlyphs" transform="rotate(-90 278.80 106.30)" >CD45RA</text>
<text x="302.00" y="246.60" font-size="15.3" text-anchor="start" fill="#111" textLength="23.4" lengthAdjust="spacingAndGlyphs" >SSc</text>
<path d="M400.50,115.30 C401.25,114.67 403.42,113.50 405.00,111.50 C406.58,109.50 408.47,107.22 410.00,103.30 C411.53,99.38 412.93,93.08 414.20,88.00 C415.47,82.92 416.68,76.73 417.60,72.80 C418.52,68.87 419.00,67.18 419.70,64.40 C420.40,61.62 421.10,58.07 421.80,56.10 C422.50,54.13 423.17,53.08 423.90,52.60 C424.63,52.12 425.50,52.15 426.20,53.20 C426.90,54.25 427.57,55.63 428.10,58.90 C428.63,62.17 428.95,67.72 429.40,72.80 C429.85,77.88 430.33,84.08 430.80,89.40 C431.27,94.72 431.68,100.53 432.20,104.70 C432.72,108.87 433.20,112.08 433.90,114.40 C434.60,116.72 435.07,117.70 436.40,118.60 C437.73,119.50 440.30,119.60 441.90,119.80 C443.50,120.00 445.32,119.80 446.00,119.80 L446,121 L400.5,121 Z" fill="#d5d7e6"/>
<path d="M400.50,118.80 C401.25,118.58 403.42,118.23 405.00,117.50 C406.58,116.77 408.23,116.77 410.00,114.40 C411.77,112.03 414.22,107.47 415.60,103.30 C416.98,99.13 417.38,94.95 418.30,89.40 C419.22,83.85 420.35,74.85 421.10,70.00 C421.85,65.15 422.27,62.62 422.80,60.30 C423.33,57.98 423.77,56.57 424.30,56.10 C424.83,55.63 425.48,55.88 426.00,57.50 C426.52,59.12 426.93,61.87 427.40,65.80 C427.87,69.73 428.35,75.77 428.80,81.10 C429.25,86.43 429.65,92.93 430.10,97.80 C430.55,102.67 431.03,107.07 431.50,110.30 C431.97,113.53 432.20,115.62 432.90,117.20 C433.60,118.78 434.52,119.35 435.70,119.80 C436.88,120.25 439.28,119.88 440.00,119.90 L440,121 L400.5,121 Z" fill="#ccc7cd"/>
<path d="M400.50,118.80 C401.25,118.58 403.42,118.23 405.00,117.50 C406.58,116.77 408.23,116.77 410.00,114.40 C411.77,112.03 414.22,107.47 415.60,103.30 C416.98,99.13 417.38,94.95 418.30,89.40 C419.22,83.85 420.35,74.85 421.10,70.00 C421.85,65.15 422.27,62.62 422.80,60.30 C423.33,57.98 423.77,56.57 424.30,56.10 C424.83,55.63 425.48,55.88 426.00,57.50 C426.52,59.12 426.93,61.87 427.40,65.80 C427.87,69.73 428.35,75.77 428.80,81.10 C429.25,86.43 429.65,92.93 430.10,97.80 C430.55,102.67 431.03,107.07 431.50,110.30 C431.97,113.53 432.20,115.62 432.90,117.20 C433.60,118.78 434.52,119.35 435.70,119.80 C436.88,120.25 439.28,119.88 440.00,119.90" fill="none" stroke="#3c5794" stroke-width="1.4"/>
<path d="M400.50,115.30 C401.25,114.67 403.42,113.50 405.00,111.50 C406.58,109.50 408.47,107.22 410.00,103.30 C411.53,99.38 412.93,93.08 414.20,88.00 C415.47,82.92 416.68,76.73 417.60,72.80 C418.52,68.87 419.00,67.18 419.70,64.40 C420.40,61.62 421.10,58.07 421.80,56.10 C422.50,54.13 423.17,53.08 423.90,52.60 C424.63,52.12 425.50,52.15 426.20,53.20 C426.90,54.25 427.57,55.63 428.10,58.90 C428.63,62.17 428.95,67.72 429.40,72.80 C429.85,77.88 430.33,84.08 430.80,89.40 C431.27,94.72 431.68,100.53 432.20,104.70 C432.72,108.87 433.20,112.08 433.90,114.40 C434.60,116.72 435.07,117.70 436.40,118.60 C437.73,119.50 440.30,119.60 441.90,119.80 C443.50,120.00 445.32,119.80 446.00,119.80" fill="none" stroke="#1f2d55" stroke-width="1.5"/>
<path d="M400.10,220.80 C400.68,220.57 402.32,220.80 403.60,219.40 C404.88,218.00 406.52,214.27 407.80,212.40 C409.08,210.53 410.12,210.55 411.30,208.20 C412.48,205.85 413.72,201.82 414.90,198.30 C416.08,194.78 417.47,191.07 418.40,187.10 C419.33,183.13 419.92,178.02 420.50,174.50 C421.08,170.98 421.37,168.12 421.90,166.00 C422.43,163.88 423.05,163.08 423.70,161.80 C424.35,160.52 425.17,157.37 425.80,158.30 C426.43,159.23 426.98,163.77 427.50,167.40 C428.02,171.03 428.38,175.65 428.90,180.10 C429.42,184.55 430.08,189.42 430.60,194.10 C431.12,198.78 431.47,204.22 432.00,208.20 C432.53,212.18 433.20,215.55 433.80,218.00 C434.40,220.45 434.90,221.70 435.60,222.90 C436.30,224.10 436.93,224.63 438.00,225.20 C439.07,225.77 441.33,226.12 442.00,226.30 L442,226.8 L400.3,226.8 Z" fill="#c0bfc3"/>
<path d="M400.10,220.80 C400.68,220.57 402.32,220.80 403.60,219.40 C404.88,218.00 406.52,214.27 407.80,212.40 C409.08,210.53 410.12,210.55 411.30,208.20 C412.48,205.85 413.72,201.82 414.90,198.30 C416.08,194.78 417.47,191.07 418.40,187.10 C419.33,183.13 419.92,178.02 420.50,174.50 C421.08,170.98 421.37,168.12 421.90,166.00 C422.43,163.88 423.05,163.08 423.70,161.80 C424.35,160.52 425.17,157.37 425.80,158.30 C426.43,159.23 426.98,163.77 427.50,167.40 C428.02,171.03 428.38,175.65 428.90,180.10 C429.42,184.55 430.08,189.42 430.60,194.10 C431.12,198.78 431.47,204.22 432.00,208.20 C432.53,212.18 433.20,215.55 433.80,218.00 C434.40,220.45 434.90,221.70 435.60,222.90 C436.30,224.10 436.93,224.63 438.00,225.20 C439.07,225.77 441.33,226.12 442.00,226.30" fill="none" stroke="#111" stroke-width="1.3"/>
<path d="M415.60,226.30 C416.42,225.62 419.33,223.93 420.50,222.20 C421.67,220.47 421.78,217.53 422.60,215.90 C423.42,214.27 424.47,212.98 425.40,212.40 C426.33,211.82 427.33,211.93 428.20,212.40 C429.07,212.87 429.88,215.60 430.60,215.20 C431.32,214.80 431.75,212.15 432.50,210.00 C433.25,207.85 433.98,205.83 435.10,202.30 C436.22,198.77 438.07,193.30 439.20,188.80 C440.33,184.30 441.23,178.68 441.90,175.30 C442.57,171.92 442.75,169.07 443.20,168.50 C443.65,167.93 444.03,172.23 444.60,171.90 C445.17,171.57 446.00,165.93 446.60,166.50 C447.20,167.07 447.63,171.47 448.20,175.30 C448.77,179.13 449.37,187.03 450.00,189.50 C450.63,191.97 451.48,190.22 452.00,190.10 C452.52,189.98 452.53,187.22 453.10,188.80 C453.67,190.38 454.57,196.23 455.40,199.60 C456.23,202.97 457.20,206.75 458.10,209.00 C459.00,211.25 460.02,211.28 460.80,213.10 C461.58,214.92 462.02,217.98 462.80,219.90 C463.58,221.82 464.48,223.53 465.50,224.60 C466.52,225.67 468.33,226.02 468.90,226.30" fill="none" stroke="#a0133c" stroke-width="1.7"/>
<path d="M417.70,226.30 C418.52,225.73 421.08,223.82 422.60,222.90 C424.12,221.98 425.40,221.97 426.80,220.80 C428.20,219.63 429.83,218.30 431.00,215.90 C432.17,213.50 432.88,210.70 433.80,206.40 C434.72,202.10 435.72,195.28 436.50,190.10 C437.28,184.92 437.90,179.35 438.50,175.30 C439.10,171.25 439.53,166.93 440.10,165.80 C440.67,164.67 441.38,165.12 441.90,168.50 C442.42,171.88 442.68,180.92 443.20,186.10 C443.72,191.28 444.32,195.10 445.00,199.60 C445.68,204.10 446.35,209.50 447.30,213.10 C448.25,216.70 449.68,219.00 450.70,221.20 C451.72,223.40 452.95,225.45 453.40,226.30" fill="none" stroke="#a0133c" stroke-width="1.7" stroke-dasharray="4 2.5"/>
<line x1="394.50" y1="121.20" x2="399.50" y2="121.20" stroke="#000" stroke-width="1.25" />
<line x1="396.70" y1="118.42" x2="399.50" y2="118.42" stroke="#000" stroke-width="1.25" />
<line x1="396.70" y1="115.64" x2="399.50" y2="115.64" stroke="#000" stroke-width="1.25" />
<line x1="396.70" y1="112.86" x2="399.50" y2="112.86" stroke="#000" stroke-width="1.25" />
<line x1="396.70" y1="110.08" x2="399.50" y2="110.08" stroke="#000" stroke-width="1.25" />
<line x1="394.50" y1="107.30" x2="399.50" y2="107.30" stroke="#000" stroke-width="1.25" />
<line x1="396.70" y1="104.52" x2="399.50" y2="104.52" stroke="#000" stroke-width="1.25" />
<line x1="396.70" y1="101.74" x2="399.50" y2="101.74" stroke="#000" stroke-width="1.25" />
<line x1="396.70" y1="98.96" x2="399.50" y2="98.96" stroke="#000" stroke-width="1.25" />
<line x1="396.70" y1="96.18" x2="399.50" y2="96.18" stroke="#000" stroke-width="1.25" />
<line x1="394.50" y1="93.40" x2="399.50" y2="93.40" stroke="#000" stroke-width="1.25" />
<line x1="396.70" y1="90.62" x2="399.50" y2="90.62" stroke="#000" stroke-width="1.25" />
<line x1="396.70" y1="87.84" x2="399.50" y2="87.84" stroke="#000" stroke-width="1.25" />
<line x1="396.70" y1="85.06" x2="399.50" y2="85.06" stroke="#000" stroke-width="1.25" />
<line x1="396.70" y1="82.28" x2="399.50" y2="82.28" stroke="#000" stroke-width="1.25" />
<line x1="394.50" y1="79.50" x2="399.50" y2="79.50" stroke="#000" stroke-width="1.25" />
<line x1="396.70" y1="76.72" x2="399.50" y2="76.72" stroke="#000" stroke-width="1.25" />
<line x1="396.70" y1="73.94" x2="399.50" y2="73.94" stroke="#000" stroke-width="1.25" />
<line x1="396.70" y1="71.16" x2="399.50" y2="71.16" stroke="#000" stroke-width="1.25" />
<line x1="396.70" y1="68.38" x2="399.50" y2="68.38" stroke="#000" stroke-width="1.25" />
<line x1="394.50" y1="65.60" x2="399.50" y2="65.60" stroke="#000" stroke-width="1.25" />
<line x1="396.70" y1="62.82" x2="399.50" y2="62.82" stroke="#000" stroke-width="1.25" />
<line x1="396.70" y1="60.04" x2="399.50" y2="60.04" stroke="#000" stroke-width="1.25" />
<line x1="396.70" y1="57.26" x2="399.50" y2="57.26" stroke="#000" stroke-width="1.25" />
<line x1="396.70" y1="54.48" x2="399.50" y2="54.48" stroke="#000" stroke-width="1.25" />
<line x1="394.50" y1="51.70" x2="399.50" y2="51.70" stroke="#000" stroke-width="1.25" />
<line x1="396.70" y1="48.92" x2="399.50" y2="48.92" stroke="#000" stroke-width="1.25" />
<line x1="399.50" y1="121.20" x2="399.50" y2="126.20" stroke="#000" stroke-width="1.25" />
<line x1="407.23" y1="121.20" x2="407.23" y2="124.20" stroke="#000" stroke-width="1.25" />
<line x1="411.75" y1="121.20" x2="411.75" y2="124.20" stroke="#000" stroke-width="1.25" />
<line x1="414.96" y1="121.20" x2="414.96" y2="124.20" stroke="#000" stroke-width="1.25" />
<line x1="417.45" y1="121.20" x2="417.45" y2="124.20" stroke="#000" stroke-width="1.25" />
<line x1="419.48" y1="121.20" x2="419.48" y2="124.20" stroke="#000" stroke-width="1.25" />
<line x1="421.20" y1="121.20" x2="421.20" y2="124.20" stroke="#000" stroke-width="1.25" />
<line x1="422.69" y1="121.20" x2="422.69" y2="124.20" stroke="#000" stroke-width="1.25" />
<line x1="424.00" y1="121.20" x2="424.00" y2="124.20" stroke="#000" stroke-width="1.25" />
<line x1="425.18" y1="121.20" x2="425.18" y2="126.20" stroke="#000" stroke-width="1.25" />
<line x1="432.90" y1="121.20" x2="432.90" y2="124.20" stroke="#000" stroke-width="1.25" />
<line x1="437.43" y1="121.20" x2="437.43" y2="124.20" stroke="#000" stroke-width="1.25" />
<line x1="440.63" y1="121.20" x2="440.63" y2="124.20" stroke="#000" stroke-width="1.25" />
<line x1="443.12" y1="121.20" x2="443.12" y2="124.20" stroke="#000" stroke-width="1.25" />
<line x1="445.15" y1="121.20" x2="445.15" y2="124.20" stroke="#000" stroke-width="1.25" />
<line x1="446.87" y1="121.20" x2="446.87" y2="124.20" stroke="#000" stroke-width="1.25" />
<line x1="448.36" y1="121.20" x2="448.36" y2="124.20" stroke="#000" stroke-width="1.25" />
<line x1="449.68" y1="121.20" x2="449.68" y2="124.20" stroke="#000" stroke-width="1.25" />
<line x1="450.85" y1="121.20" x2="450.85" y2="126.20" stroke="#000" stroke-width="1.25" />
<line x1="458.58" y1="121.20" x2="458.58" y2="124.20" stroke="#000" stroke-width="1.25" />
<line x1="463.10" y1="121.20" x2="463.10" y2="124.20" stroke="#000" stroke-width="1.25" />
<line x1="466.31" y1="121.20" x2="466.31" y2="124.20" stroke="#000" stroke-width="1.25" />
<line x1="468.80" y1="121.20" x2="468.80" y2="124.20" stroke="#000" stroke-width="1.25" />
<line x1="470.83" y1="121.20" x2="470.83" y2="124.20" stroke="#000" stroke-width="1.25" />
<line x1="472.55" y1="121.20" x2="472.55" y2="124.20" stroke="#000" stroke-width="1.25" />
<line x1="474.04" y1="121.20" x2="474.04" y2="124.20" stroke="#000" stroke-width="1.25" />
<line x1="475.35" y1="121.20" x2="475.35" y2="124.20" stroke="#000" stroke-width="1.25" />
<line x1="476.52" y1="121.20" x2="476.52" y2="126.20" stroke="#000" stroke-width="1.25" />
<line x1="484.25" y1="121.20" x2="484.25" y2="124.20" stroke="#000" stroke-width="1.25" />
<line x1="488.78" y1="121.20" x2="488.78" y2="124.20" stroke="#000" stroke-width="1.25" />
<line x1="491.98" y1="121.20" x2="491.98" y2="124.20" stroke="#000" stroke-width="1.25" />
<line x1="494.47" y1="121.20" x2="494.47" y2="124.20" stroke="#000" stroke-width="1.25" />
<line x1="496.50" y1="121.20" x2="496.50" y2="124.20" stroke="#000" stroke-width="1.25" />
<line x1="498.22" y1="121.20" x2="498.22" y2="124.20" stroke="#000" stroke-width="1.25" />
<line x1="499.71" y1="121.20" x2="499.71" y2="124.20" stroke="#000" stroke-width="1.25" />
<line x1="501.03" y1="121.20" x2="501.03" y2="124.20" stroke="#000" stroke-width="1.25" />
<line x1="502.20" y1="121.20" x2="502.20" y2="126.20" stroke="#000" stroke-width="1.25" />
<rect x="399.50" y="46.50" width="102.70" height="74.70" fill="none" stroke="#000" stroke-width="1.9"/>
<line x1="394.00" y1="226.70" x2="399.00" y2="226.70" stroke="#000" stroke-width="1.25" />
<line x1="396.20" y1="223.92" x2="399.00" y2="223.92" stroke="#000" stroke-width="1.25" />
<line x1="396.20" y1="221.14" x2="399.00" y2="221.14" stroke="#000" stroke-width="1.25" />
<line x1="396.20" y1="218.36" x2="399.00" y2="218.36" stroke="#000" stroke-width="1.25" />
<line x1="396.20" y1="215.58" x2="399.00" y2="215.58" stroke="#000" stroke-width="1.25" />
<line x1="394.00" y1="212.80" x2="399.00" y2="212.80" stroke="#000" stroke-width="1.25" />
<line x1="396.20" y1="210.02" x2="399.00" y2="210.02" stroke="#000" stroke-width="1.25" />
<line x1="396.20" y1="207.24" x2="399.00" y2="207.24" stroke="#000" stroke-width="1.25" />
<line x1="396.20" y1="204.46" x2="399.00" y2="204.46" stroke="#000" stroke-width="1.25" />
<line x1="396.20" y1="201.68" x2="399.00" y2="201.68" stroke="#000" stroke-width="1.25" />
<line x1="394.00" y1="198.90" x2="399.00" y2="198.90" stroke="#000" stroke-width="1.25" />
<line x1="396.20" y1="196.12" x2="399.00" y2="196.12" stroke="#000" stroke-width="1.25" />
<line x1="396.20" y1="193.34" x2="399.00" y2="193.34" stroke="#000" stroke-width="1.25" />
<line x1="396.20" y1="190.56" x2="399.00" y2="190.56" stroke="#000" stroke-width="1.25" />
<line x1="396.20" y1="187.78" x2="399.00" y2="187.78" stroke="#000" stroke-width="1.25" />
<line x1="394.00" y1="185.00" x2="399.00" y2="185.00" stroke="#000" stroke-width="1.25" />
<line x1="396.20" y1="182.22" x2="399.00" y2="182.22" stroke="#000" stroke-width="1.25" />
<line x1="396.20" y1="179.44" x2="399.00" y2="179.44" stroke="#000" stroke-width="1.25" />
<line x1="396.20" y1="176.66" x2="399.00" y2="176.66" stroke="#000" stroke-width="1.25" />
<line x1="396.20" y1="173.88" x2="399.00" y2="173.88" stroke="#000" stroke-width="1.25" />
<line x1="394.00" y1="171.10" x2="399.00" y2="171.10" stroke="#000" stroke-width="1.25" />
<line x1="396.20" y1="168.32" x2="399.00" y2="168.32" stroke="#000" stroke-width="1.25" />
<line x1="396.20" y1="165.54" x2="399.00" y2="165.54" stroke="#000" stroke-width="1.25" />
<line x1="396.20" y1="162.76" x2="399.00" y2="162.76" stroke="#000" stroke-width="1.25" />
<line x1="396.20" y1="159.98" x2="399.00" y2="159.98" stroke="#000" stroke-width="1.25" />
<line x1="394.00" y1="157.20" x2="399.00" y2="157.20" stroke="#000" stroke-width="1.25" />
<line x1="396.20" y1="154.42" x2="399.00" y2="154.42" stroke="#000" stroke-width="1.25" />
<line x1="399.00" y1="226.70" x2="399.00" y2="231.70" stroke="#000" stroke-width="1.25" />
<line x1="406.77" y1="226.70" x2="406.77" y2="229.70" stroke="#000" stroke-width="1.25" />
<line x1="411.31" y1="226.70" x2="411.31" y2="229.70" stroke="#000" stroke-width="1.25" />
<line x1="414.53" y1="226.70" x2="414.53" y2="229.70" stroke="#000" stroke-width="1.25" />
<line x1="417.03" y1="226.70" x2="417.03" y2="229.70" stroke="#000" stroke-width="1.25" />
<line x1="419.08" y1="226.70" x2="419.08" y2="229.70" stroke="#000" stroke-width="1.25" />
<line x1="420.80" y1="226.70" x2="420.80" y2="229.70" stroke="#000" stroke-width="1.25" />
<line x1="422.30" y1="226.70" x2="422.30" y2="229.70" stroke="#000" stroke-width="1.25" />
<line x1="423.62" y1="226.70" x2="423.62" y2="229.70" stroke="#000" stroke-width="1.25" />
<line x1="424.80" y1="226.70" x2="424.80" y2="231.70" stroke="#000" stroke-width="1.25" />
<line x1="432.57" y1="226.70" x2="432.57" y2="229.70" stroke="#000" stroke-width="1.25" />
<line x1="437.11" y1="226.70" x2="437.11" y2="229.70" stroke="#000" stroke-width="1.25" />
<line x1="440.33" y1="226.70" x2="440.33" y2="229.70" stroke="#000" stroke-width="1.25" />
<line x1="442.83" y1="226.70" x2="442.83" y2="229.70" stroke="#000" stroke-width="1.25" />
<line x1="444.88" y1="226.70" x2="444.88" y2="229.70" stroke="#000" stroke-width="1.25" />
<line x1="446.60" y1="226.70" x2="446.60" y2="229.70" stroke="#000" stroke-width="1.25" />
<line x1="448.10" y1="226.70" x2="448.10" y2="229.70" stroke="#000" stroke-width="1.25" />
<line x1="449.42" y1="226.70" x2="449.42" y2="229.70" stroke="#000" stroke-width="1.25" />
<line x1="450.60" y1="226.70" x2="450.60" y2="231.70" stroke="#000" stroke-width="1.25" />
<line x1="458.37" y1="226.70" x2="458.37" y2="229.70" stroke="#000" stroke-width="1.25" />
<line x1="462.91" y1="226.70" x2="462.91" y2="229.70" stroke="#000" stroke-width="1.25" />
<line x1="466.13" y1="226.70" x2="466.13" y2="229.70" stroke="#000" stroke-width="1.25" />
<line x1="468.63" y1="226.70" x2="468.63" y2="229.70" stroke="#000" stroke-width="1.25" />
<line x1="470.68" y1="226.70" x2="470.68" y2="229.70" stroke="#000" stroke-width="1.25" />
<line x1="472.40" y1="226.70" x2="472.40" y2="229.70" stroke="#000" stroke-width="1.25" />
<line x1="473.90" y1="226.70" x2="473.90" y2="229.70" stroke="#000" stroke-width="1.25" />
<line x1="475.22" y1="226.70" x2="475.22" y2="229.70" stroke="#000" stroke-width="1.25" />
<line x1="476.40" y1="226.70" x2="476.40" y2="231.70" stroke="#000" stroke-width="1.25" />
<line x1="484.17" y1="226.70" x2="484.17" y2="229.70" stroke="#000" stroke-width="1.25" />
<line x1="488.71" y1="226.70" x2="488.71" y2="229.70" stroke="#000" stroke-width="1.25" />
<line x1="491.93" y1="226.70" x2="491.93" y2="229.70" stroke="#000" stroke-width="1.25" />
<line x1="494.43" y1="226.70" x2="494.43" y2="229.70" stroke="#000" stroke-width="1.25" />
<line x1="496.48" y1="226.70" x2="496.48" y2="229.70" stroke="#000" stroke-width="1.25" />
<line x1="498.20" y1="226.70" x2="498.20" y2="229.70" stroke="#000" stroke-width="1.25" />
<line x1="499.70" y1="226.70" x2="499.70" y2="229.70" stroke="#000" stroke-width="1.25" />
<line x1="501.02" y1="226.70" x2="501.02" y2="229.70" stroke="#000" stroke-width="1.25" />
<line x1="502.20" y1="226.70" x2="502.20" y2="231.70" stroke="#000" stroke-width="1.25" />
<rect x="399.00" y="152.30" width="103.20" height="74.40" fill="none" stroke="#000" stroke-width="1.9"/>
<line x1="381.40" y1="241.80" x2="381.40" y2="120.00" stroke="#000" stroke-width="1.9" />
<path d="M381.40,112.50 L386.40,124.60 L381.40,122.20 L376.40,124.60 Z" fill="#000"/>
<line x1="380.50" y1="241.80" x2="395.00" y2="241.80" stroke="#000" stroke-width="1.9" />
<path d="M404.60,241.80 L392.50,246.80 L394.90,241.80 L392.50,236.80 Z" fill="#000"/>
<text x="385.10" y="106.40" font-size="15.3" text-anchor="start" fill="#111" textLength="37" lengthAdjust="spacingAndGlyphs" transform="rotate(-90 385.10 106.40)" >Events</text>
<text x="409.20" y="246.40" font-size="15.3" text-anchor="start" fill="#111" textLength="33.1" lengthAdjust="spacingAndGlyphs" >Foxp3</text>
<line x1="271.3" y1="264.5" x2="290.3" y2="264.5" stroke="#243a6e" stroke-width="1.8" stroke-dasharray="4.6 2.6"/>
<line x1="271.3" y1="278.3" x2="290.3" y2="278.3" stroke="#34538f" stroke-width="1.8"/>
<line x1="398.8" y1="263" x2="419" y2="263" stroke="#a0133c" stroke-width="1.8" stroke-dasharray="4.8 2.9"/>
<line x1="398.8" y1="276.3" x2="419" y2="276.3" stroke="#a0133c" stroke-width="1.8"/>
<text x="296.30" y="268.00" font-size="11.3" text-anchor="start" fill="#111" textLength="85" lengthAdjust="spacingAndGlyphs" >CD45RA+ Tcons</text>
<text x="296.30" y="281.80" font-size="11.3" text-anchor="start" fill="#111" textLength="82.5" lengthAdjust="spacingAndGlyphs" >CD45RA- Tcons</text>
<text x="423.30" y="267.50" font-size="11.3" text-anchor="start" fill="#111" textLength="83.7" lengthAdjust="spacingAndGlyphs" >CD45RA+ Tregs</text>
<text x="423.30" y="280.50" font-size="11.3" text-anchor="start" fill="#111" textLength="81.2" lengthAdjust="spacingAndGlyphs" >CD45RA- Tregs</text>
<text x="132.80" y="342.60" font-size="14.5" text-anchor="start" fill="#111" textLength="38.4" lengthAdjust="spacingAndGlyphs" >Tcons</text>
<line x1="61.20" y1="376.90" x2="61.20" y2="502.40" stroke="#000" stroke-width="1.8" />
<line x1="56.70" y1="502.40" x2="241.50" y2="502.40" stroke="#000" stroke-width="1.8" />
<line x1="56.70" y1="472.10" x2="61.20" y2="472.10" stroke="#000" stroke-width="1.8" />
<line x1="56.70" y1="441.80" x2="61.20" y2="441.80" stroke="#000" stroke-width="1.8" />
<line x1="56.70" y1="411.50" x2="61.20" y2="411.50" stroke="#000" stroke-width="1.8" />
<line x1="56.70" y1="381.20" x2="61.20" y2="381.20" stroke="#000" stroke-width="1.8" />
<line x1="61.20" y1="502.40" x2="61.20" y2="507.40" stroke="#000" stroke-width="1.8" />
<text x="61.20" y="523.10" font-size="12" text-anchor="middle" fill="#111" >0</text>
<line x1="89.06" y1="502.40" x2="89.06" y2="507.40" stroke="#000" stroke-width="1.8" />
<text x="89.06" y="523.10" font-size="12" text-anchor="middle" fill="#111" >2</text>
<line x1="116.92" y1="502.40" x2="116.92" y2="507.40" stroke="#000" stroke-width="1.8" />
<text x="116.92" y="523.10" font-size="12" text-anchor="middle" fill="#111" >4</text>
<line x1="144.78" y1="502.40" x2="144.78" y2="507.40" stroke="#000" stroke-width="1.8" />
<text x="144.78" y="523.10" font-size="12" text-anchor="middle" fill="#111" >6</text>
<line x1="172.64" y1="502.40" x2="172.64" y2="507.40" stroke="#000" stroke-width="1.8" />
<text x="172.64" y="523.10" font-size="12" text-anchor="middle" fill="#111" >8</text>
<line x1="200.50" y1="502.40" x2="200.50" y2="507.40" stroke="#000" stroke-width="1.8" />
<text x="200.50" y="523.10" font-size="12" text-anchor="middle" fill="#111" >10</text>
<line x1="228.36" y1="502.40" x2="228.36" y2="507.40" stroke="#000" stroke-width="1.8" />
<text x="228.36" y="523.10" font-size="12" text-anchor="middle" fill="#111" >12</text>
<text x="50.90" y="506.70" font-size="12" text-anchor="end" fill="#111" >0</text>
<text x="50.90" y="476.40" font-size="12" text-anchor="end" fill="#111" >10</text>
<text x="50.90" y="446.10" font-size="12" text-anchor="end" fill="#111" >20</text>
<text x="50.90" y="415.80" font-size="12" text-anchor="end" fill="#111" >30</text>
<text x="50.90" y="385.50" font-size="12" text-anchor="end" fill="#111" >40</text>
<text x="27.80" y="442.70" font-size="14.5" text-anchor="middle" fill="#111" textLength="49.6" lengthAdjust="spacingAndGlyphs" transform="rotate(-90 27.80 442.70)" >PD-1(%)</text>
<text x="144.70" y="543.10" font-size="14.5" text-anchor="middle" fill="#111" textLength="36.8" lengthAdjust="spacingAndGlyphs" >Weeks</text>
<line x1="60.20" y1="372.40" x2="163.10" y2="372.40" stroke="#000" stroke-width="2" />
<path d="M172.10,372.40 L160.30,377.10 L163.00,372.40 L160.30,367.70 Z" fill="#000"/>
<line x1="176.70" y1="372.4" x2="229.70" y2="372.4" stroke="#000" stroke-width="2.1" stroke-dasharray="2.3 3.4 6.7 3.4 6.7 3.4 6.7 3.4 6.7 3.4 6.7 20"/>
<text x="81.80" y="365.00" font-size="11.2" text-anchor="start" fill="#111" textLength="61.4" lengthAdjust="spacingAndGlyphs" >IL-2 infusion</text>
<text x="195.30" y="365.00" font-size="11.2" text-anchor="start" fill="#111" textLength="15.3" lengthAdjust="spacingAndGlyphs" >Off</text>
<polyline points="61.5,446.4 75.1,435.3 89.1,450.3 116.6,451.7 144.6,441.4 172.2,450.7 228.4,472.5" fill="none" stroke="#243a6e" stroke-width="2.1" stroke-linejoin="round"/>
<line x1="61.3" y1="497.5" x2="75.2" y2="497.3" stroke="#243a6e" stroke-width="2" stroke-dasharray="7.4 3.2" stroke-dashoffset="-1"/>
<line x1="75.2" y1="497.3" x2="88.9" y2="494.9" stroke="#243a6e" stroke-width="2" stroke-dasharray="7.4 3.2" stroke-dashoffset="-1"/>
<line x1="88.9" y1="494.9" x2="117.0" y2="496.2" stroke="#243a6e" stroke-width="2" stroke-dasharray="7.4 3.2" stroke-dashoffset="-1"/>
<line x1="117.0" y1="496.2" x2="144.7" y2="496.2" stroke="#243a6e" stroke-width="2" stroke-dasharray="7.4 3.2" stroke-dashoffset="-1"/>
<line x1="144.7" y1="496.2" x2="172.2" y2="491.9" stroke="#243a6e" stroke-width="2" stroke-dasharray="7.4 3.2" stroke-dashoffset="-1"/>
<line x1="172.2" y1="491.9" x2="228.4" y2="495.7" stroke="#243a6e" stroke-width="2" stroke-dasharray="7.4 3.2" stroke-dashoffset="-1"/>
<circle cx="61.5" cy="446.4" r="3.5" fill="#2c4683"/>
<circle cx="75.1" cy="435.3" r="3.5" fill="#2c4683"/>
<circle cx="89.1" cy="450.3" r="3.5" fill="#2c4683"/>
<circle cx="116.6" cy="451.7" r="3.5" fill="#2c4683"/>
<circle cx="144.6" cy="441.4" r="3.5" fill="#2c4683"/>
<circle cx="172.2" cy="450.7" r="3.5" fill="#2c4683"/>
<circle cx="228.4" cy="472.5" r="3.5" fill="#2c4683"/>
<circle cx="61.3" cy="497.5" r="3.25" fill="#fff" stroke="#243a6e" stroke-width="1.7"/>
<circle cx="75.2" cy="497.3" r="3.25" fill="#fff" stroke="#243a6e" stroke-width="1.7"/>
<circle cx="88.9" cy="494.9" r="3.25" fill="#fff" stroke="#243a6e" stroke-width="1.7"/>
<circle cx="117.0" cy="496.2" r="3.25" fill="#fff" stroke="#243a6e" stroke-width="1.7"/>
<circle cx="144.7" cy="496.2" r="3.25" fill="#fff" stroke="#243a6e" stroke-width="1.7"/>
<circle cx="172.2" cy="491.9" r="3.25" fill="#fff" stroke="#243a6e" stroke-width="1.7"/>
<circle cx="228.4" cy="495.7" r="3.25" fill="#fff" stroke="#243a6e" stroke-width="1.7"/>
<line x1="64.60" y1="392.70" x2="80.80" y2="392.70" stroke="#243a6e" stroke-width="1.8" />
<circle cx="73.20" cy="392.7" r="3.2" fill="#fff" stroke="#243a6e" stroke-width="1.7"/>
<line x1="64.60" y1="408.20" x2="80.80" y2="408.20" stroke="#243a6e" stroke-width="1.8" />
<circle cx="73.20" cy="408.2" r="3.5" fill="#2c4683"/>
<text x="85.50" y="395.90" font-size="11.4" text-anchor="start" fill="#111" textLength="85.5" lengthAdjust="spacingAndGlyphs" >CD45RA+ Tcons</text>
<text x="85.50" y="411.40" font-size="11.4" text-anchor="start" fill="#111" textLength="82.7" lengthAdjust="spacingAndGlyphs" >CD45RA- Tcons</text>
<text x="377.30" y="342.60" font-size="14.5" text-anchor="start" fill="#111" textLength="36" lengthAdjust="spacingAndGlyphs" >Tregs</text>
<line x1="304.90" y1="376.60" x2="304.90" y2="502.10" stroke="#000" stroke-width="1.8" />
<line x1="300.40" y1="502.10" x2="485.50" y2="502.10" stroke="#000" stroke-width="1.8" />
<line x1="300.40" y1="471.80" x2="304.90" y2="471.80" stroke="#000" stroke-width="1.8" />
<line x1="300.40" y1="441.50" x2="304.90" y2="441.50" stroke="#000" stroke-width="1.8" />
<line x1="300.40" y1="411.20" x2="304.90" y2="411.20" stroke="#000" stroke-width="1.8" />
<line x1="300.40" y1="380.90" x2="304.90" y2="380.90" stroke="#000" stroke-width="1.8" />
<line x1="304.90" y1="502.10" x2="304.90" y2="507.10" stroke="#000" stroke-width="1.8" />
<text x="304.90" y="523.10" font-size="12" text-anchor="middle" fill="#111" >0</text>
<line x1="331.82" y1="502.10" x2="331.82" y2="507.10" stroke="#000" stroke-width="1.8" />
<text x="331.82" y="523.10" font-size="12" text-anchor="middle" fill="#111" >2</text>
<line x1="358.74" y1="502.10" x2="358.74" y2="507.10" stroke="#000" stroke-width="1.8" />
<text x="358.74" y="523.10" font-size="12" text-anchor="middle" fill="#111" >4</text>
<line x1="385.66" y1="502.10" x2="385.66" y2="507.10" stroke="#000" stroke-width="1.8" />
<text x="385.66" y="523.10" font-size="12" text-anchor="middle" fill="#111" >6</text>
<line x1="412.58" y1="502.10" x2="412.58" y2="507.10" stroke="#000" stroke-width="1.8" />
<text x="412.58" y="523.10" font-size="12" text-anchor="middle" fill="#111" >8</text>
<line x1="439.50" y1="502.10" x2="439.50" y2="507.10" stroke="#000" stroke-width="1.8" />
<text x="439.50" y="523.10" font-size="12" text-anchor="middle" fill="#111" >10</text>
<line x1="466.42" y1="502.10" x2="466.42" y2="507.10" stroke="#000" stroke-width="1.8" />
<text x="466.42" y="523.10" font-size="12" text-anchor="middle" fill="#111" >12</text>
<text x="294.60" y="506.40" font-size="12" text-anchor="end" fill="#111" >0</text>
<text x="294.60" y="476.10" font-size="12" text-anchor="end" fill="#111" >10</text>
<text x="294.60" y="445.80" font-size="12" text-anchor="end" fill="#111" >20</text>
<text x="294.60" y="415.50" font-size="12" text-anchor="end" fill="#111" >30</text>
<text x="294.60" y="385.20" font-size="12" text-anchor="end" fill="#111" >40</text>
<text x="271.50" y="442.40" font-size="14.5" text-anchor="middle" fill="#111" textLength="49.6" lengthAdjust="spacingAndGlyphs" transform="rotate(-90 271.50 442.40)" >PD-1(%)</text>
<text x="388.50" y="543.10" font-size="14.5" text-anchor="middle" fill="#111" textLength="36.8" lengthAdjust="spacingAndGlyphs" >Weeks</text>
<line x1="303.90" y1="372.40" x2="406.60" y2="372.40" stroke="#000" stroke-width="2" />
<path d="M415.60,372.40 L403.80,377.10 L406.50,372.40 L403.80,367.70 Z" fill="#000"/>
<line x1="420.20" y1="372.4" x2="473.20" y2="372.4" stroke="#000" stroke-width="2.1" stroke-dasharray="2.3 3.4 6.7 3.4 6.7 3.4 6.7 3.4 6.7 3.4 6.7 20"/>
<text x="325.50" y="365.00" font-size="11.2" text-anchor="start" fill="#111" textLength="61.4" lengthAdjust="spacingAndGlyphs" >IL-2 infusion</text>
<text x="438.80" y="365.00" font-size="11.2" text-anchor="start" fill="#111" textLength="15.3" lengthAdjust="spacingAndGlyphs" >Off</text>
<polyline points="304.2,428.1 318.5,409.9 332.3,404.1 360.3,392.3 387.9,407.8 415.9,414.7 470.3,439.3" fill="none" stroke="#a0133c" stroke-width="2.1" stroke-linejoin="round"/>
<line x1="305.0" y1="493.0" x2="318.7" y2="495.0" stroke="#a0133c" stroke-width="2" stroke-dasharray="7.4 3.2" stroke-dashoffset="-1"/>
<line x1="318.7" y1="495.0" x2="332.2" y2="492.5" stroke="#a0133c" stroke-width="2" stroke-dasharray="7.4 3.2" stroke-dashoffset="-1"/>
<line x1="332.2" y1="492.5" x2="360.1" y2="494.2" stroke="#a0133c" stroke-width="2" stroke-dasharray="7.4 3.2" stroke-dashoffset="-1"/>
<line x1="360.1" y1="494.2" x2="387.6" y2="491.3" stroke="#a0133c" stroke-width="2" stroke-dasharray="7.4 3.2" stroke-dashoffset="-1"/>
<line x1="387.6" y1="491.3" x2="415.8" y2="493.5" stroke="#a0133c" stroke-width="2" stroke-dasharray="7.4 3.2" stroke-dashoffset="-1"/>
<line x1="415.8" y1="493.5" x2="467.0" y2="497.2" stroke="#a0133c" stroke-width="2" stroke-dasharray="7.4 3.2" stroke-dashoffset="-1"/>
<circle cx="304.2" cy="428.1" r="3.5" fill="#a8143e"/>
<circle cx="318.5" cy="409.9" r="3.5" fill="#a8143e"/>
<circle cx="332.3" cy="404.1" r="3.5" fill="#a8143e"/>
<circle cx="360.3" cy="392.3" r="3.5" fill="#a8143e"/>
<circle cx="387.9" cy="407.8" r="3.5" fill="#a8143e"/>
<circle cx="415.9" cy="414.7" r="3.5" fill="#a8143e"/>
<circle cx="470.3" cy="439.3" r="3.5" fill="#a8143e"/>
<circle cx="305.0" cy="493.0" r="3.25" fill="#fff" stroke="#a0133c" stroke-width="1.7"/>
<circle cx="318.7" cy="495.0" r="3.25" fill="#fff" stroke="#a0133c" stroke-width="1.7"/>
<circle cx="332.2" cy="492.5" r="3.25" fill="#fff" stroke="#a0133c" stroke-width="1.7"/>
<circle cx="360.1" cy="494.2" r="3.25" fill="#fff" stroke="#a0133c" stroke-width="1.7"/>
<circle cx="387.6" cy="491.3" r="3.25" fill="#fff" stroke="#a0133c" stroke-width="1.7"/>
<circle cx="415.8" cy="493.5" r="3.25" fill="#fff" stroke="#a0133c" stroke-width="1.7"/>
<circle cx="467.0" cy="497.2" r="3.25" fill="#fff" stroke="#a0133c" stroke-width="1.7"/>
<line x1="308.80" y1="450.40" x2="325.00" y2="450.40" stroke="#a0133c" stroke-width="1.8" />
<circle cx="317.40" cy="450.4" r="3.2" fill="#fff" stroke="#a0133c" stroke-width="1.7"/>
<line x1="308.80" y1="464.40" x2="325.00" y2="464.40" stroke="#a0133c" stroke-width="1.8" />
<circle cx="317.40" cy="464.4" r="3.5" fill="#a8143e"/>
<text x="329.70" y="453.60" font-size="11.4" text-anchor="start" fill="#111" textLength="84.3" lengthAdjust="spacingAndGlyphs" >CD45RA+ Tregs</text>
<text x="329.70" y="467.60" font-size="11.4" text-anchor="start" fill="#111" textLength="82" lengthAdjust="spacingAndGlyphs" >CD45RA- Tregs</text>
<text x="317.60" y="407.00" font-size="11" text-anchor="middle" fill="#111" textLength="4.6" lengthAdjust="spacingAndGlyphs" >*</text>
<text x="331.70" y="400.80" font-size="11" text-anchor="middle" fill="#111" textLength="4.6" lengthAdjust="spacingAndGlyphs" >*</text>
<text x="359.60" y="390.60" font-size="11" text-anchor="middle" fill="#111" textLength="10.6" lengthAdjust="spacingAndGlyphs" >**</text>
<text x="387.80" y="402.90" font-size="11" text-anchor="middle" fill="#111" textLength="4.6" lengthAdjust="spacingAndGlyphs" >*</text>
<text x="416.10" y="409.80" font-size="11" text-anchor="middle" fill="#111" textLength="4.6" lengthAdjust="spacingAndGlyphs" >*</text>
</svg>
</body></html>
